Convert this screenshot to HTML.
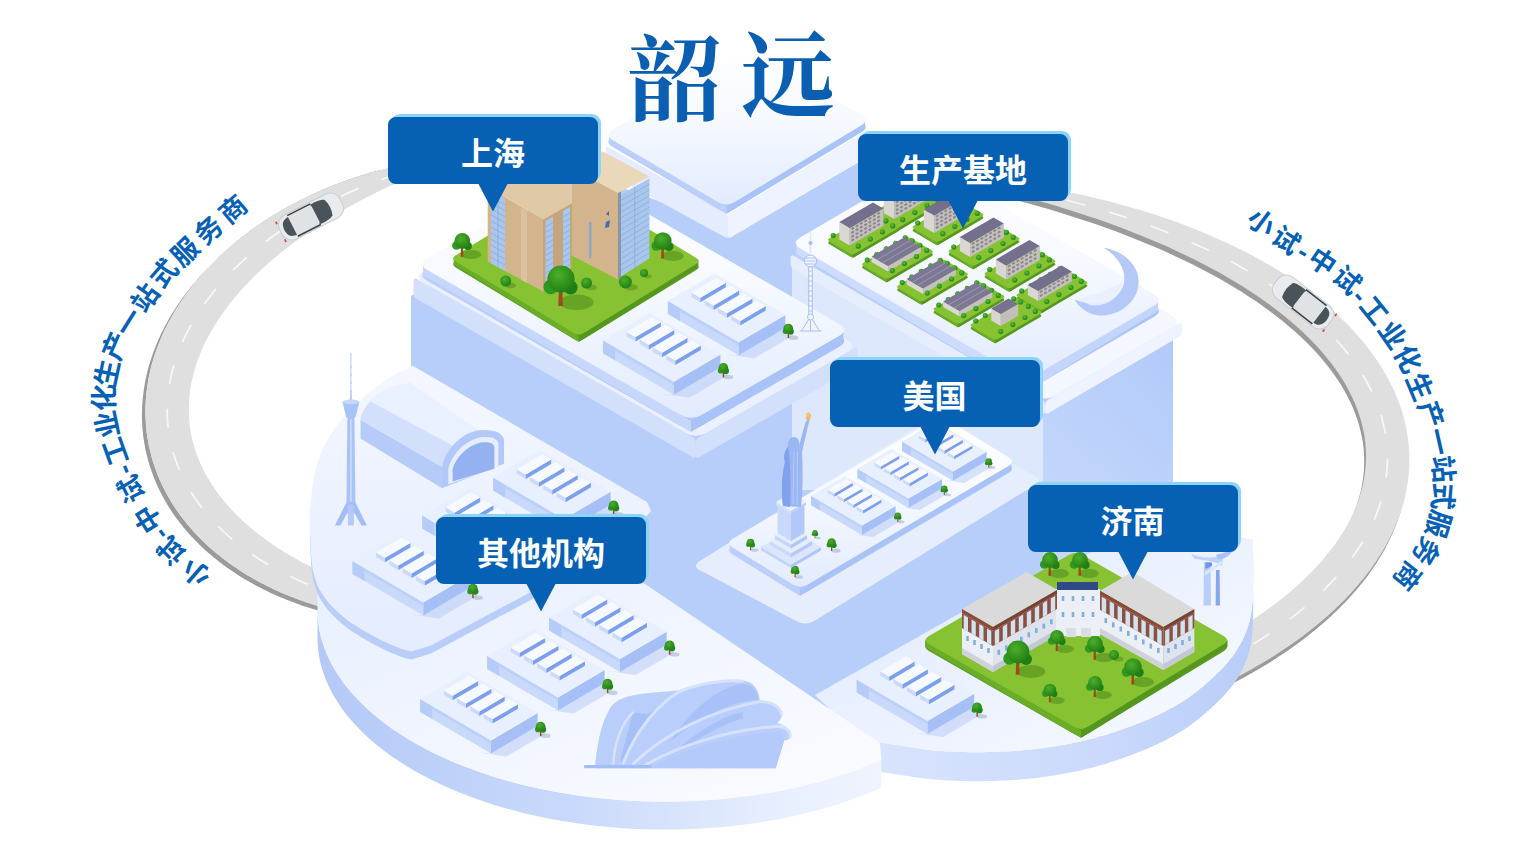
<!DOCTYPE html>
<html><head><meta charset="utf-8"><title>韶远</title>
<style>html,body{margin:0;padding:0;overflow:hidden;background:#fff;font-family:"Liberation Sans",sans-serif;}svg{display:block}</style>
</head><body>
<svg width="1529" height="852" viewBox="0 0 1529 852">
<defs>
<linearGradient id="gTop" x1="0.5" y1="0" x2="0.5" y2="1"><stop offset="0" stop-color="#ffffff"/><stop offset="0.45" stop-color="#f6f9ff"/><stop offset="1" stop-color="#e2ebfe"/></linearGradient>
<linearGradient id="gTop2" x1="0" y1="0" x2="0" y2="1"><stop offset="0" stop-color="#f4f7ff"/><stop offset="1" stop-color="#e4ecfe"/></linearGradient>
<linearGradient id="gWall" x1="0" y1="0" x2="1" y2="0"><stop offset="0" stop-color="#b4c9f8"/><stop offset="0.45" stop-color="#c9d9fb"/><stop offset="0.8" stop-color="#e6eefe"/><stop offset="1" stop-color="#f0f4ff"/></linearGradient>
<linearGradient id="gWallJ" x1="0" y1="0" x2="1" y2="0"><stop offset="0" stop-color="#d9e4fd"/><stop offset="0.6" stop-color="#cbdafc"/><stop offset="1" stop-color="#b9cdf9"/></linearGradient>
<linearGradient id="gLeftFace" x1="0" y1="0" x2="0" y2="1"><stop offset="0" stop-color="#c3d5fa"/><stop offset="1" stop-color="#d3e0fc"/></linearGradient>
<linearGradient id="gRightFace" x1="0" y1="0" x2="0" y2="1"><stop offset="0" stop-color="#a9c2f6"/><stop offset="1" stop-color="#bfd2fa"/></linearGradient>
<linearGradient id="gRim" x1="0" y1="0" x2="1" y2="0"><stop offset="0" stop-color="#bccff9"/><stop offset="1" stop-color="#a9c2f7"/></linearGradient>
<radialGradient id="gTree" cx="0.4" cy="0.35" r="0.7"><stop offset="0" stop-color="#4cae2a"/><stop offset="1" stop-color="#1f7d14"/></radialGradient>
<linearGradient id="gProdR" x1="0.7" y1="0" x2="0.3" y2="1"><stop offset="0" stop-color="#b4cbfa"/><stop offset="1" stop-color="#c9dbfd"/></linearGradient><linearGradient id="gJinTop" x1="0" y1="0" x2="1" y2="1"><stop offset="0" stop-color="#dbe6fd"/><stop offset="0.6" stop-color="#eef3ff"/><stop offset="1" stop-color="#f8faff"/></linearGradient><linearGradient id="gDiscTop" x1="0" y1="0" x2="1" y2="1"><stop offset="0" stop-color="#e6eefe"/><stop offset="0.5" stop-color="#f1f5ff"/><stop offset="1" stop-color="#fbfcff"/></linearGradient></defs>
<rect width="1529" height="852" fill="#fff"/>
<polygon points="375.9,173.7 373.3,174.4 370.6,175.1 368,175.8 365.4,176.6 362.8,177.4 360.1,178.2 357.5,179 354.9,179.8 352.4,180.7 349.8,181.5 347.2,182.4 344.6,183.3 342.1,184.2 339.5,185.2 337,186.1 334.5,187.1 332,188 329.5,189 327,190 324.5,191 322,192.1 319.5,193.1 317.1,194.2 314.6,195.3 312.2,196.4 309.7,197.5 307.3,198.6 304.9,199.7 302.5,200.9 300.1,202.1 297.8,203.2 295.4,204.4 293.1,205.7 290.7,206.9 288.4,208.1 286.1,209.4 283.8,210.6 281.5,211.9 279.3,213.2 277,214.5 274.8,215.9 272.5,217.2 270.3,218.5 268.1,219.9 265.9,221.3 263.8,222.7 261.6,224.1 259.5,225.5 257.3,226.9 255.2,228.4 253.1,229.8 251.1,231.3 249,232.7 246.9,234.2 244.9,235.7 242.9,237.3 240.9,238.8 238.9,240.3 236.9,241.9 235,243.4 233,245 231.1,246.6 229.2,248.2 227.3,249.8 225.5,251.4 223.6,253 221.8,254.6 220,256.3 218.2,257.9 216.4,259.6 214.6,261.3 212.9,263 211.2,264.7 209.5,266.4 207.8,268.1 206.1,269.8 204.5,271.6 202.8,273.3 201.2,275.1 199.6,276.8 198.1,278.6 196.5,280.4 195,282.2 193.5,284 192,285.8 190.5,287.6 189,289.4 187.6,291.2 186.2,293.1 184.8,294.9 183.4,296.8 182.1,298.6 180.8,300.5 179.5,302.3 178.2,304.2 176.9,306.1 175.7,308 174.4,309.9 173.2,311.8 172,313.7 170.9,315.6 169.8,317.6 168.6,319.5 167.5,321.4 166.5,323.4 165.4,325.3 164.4,327.3 163.4,329.2 162.4,331.2 161.4,333.1 160.5,335.1 159.6,337.1 158.7,339.1 157.8,341 157,343 156.2,345 155.4,347 154.6,349 153.8,351 153.1,353 152.4,355 151.7,357 151,359 150.4,361 149.8,363.1 149.2,365.1 148.6,367.1 148,369.1 147.5,371.1 147,373.2 146.5,375.2 146.1,377.2 145.6,379.2 145.2,381.3 144.9,383.3 144.5,385.3 144.2,387.4 143.8,389.4 143.6,391.4 143.3,393.5 143.1,395.5 142.8,397.5 142.6,399.6 142.5,401.6 142.3,403.6 142.2,405.6 142.1,407.7 142,409.7 142,411.7 141.9,413.8 141.9,415.8 142,417.8 142,419.8 142.1,421.8 142.2,423.8 142.3,425.9 142.4,427.9 142.6,429.9 142.8,431.9 143,433.9 143.2,435.9 143.5,437.9 143.8,439.9 144.1,441.9 144.4,443.8 144.8,445.8 145.1,447.8 145.5,449.8 146,451.7 146.4,453.7 146.9,455.6 147.4,457.6 147.9,459.5 148.4,461.5 149,463.4 149.6,465.4 150.2,467.3 150.8,469.2 151.5,471.1 152.2,473 152.9,474.9 153.6,476.8 154.3,478.7 155.1,480.6 155.9,482.5 156.7,484.3 157.6,486.2 158.4,488.1 159.3,489.9 160.2,491.8 161.2,493.6 162.1,495.4 163.1,497.2 164.1,499 165.1,500.8 166.2,502.6 167.2,504.4 168.3,506.2 169.4,508 170.6,509.7 171.7,511.5 172.9,513.2 174.1,514.9 175.3,516.7 176.5,518.4 177.8,520.1 179.1,521.8 180.4,523.4 181.7,525.1 183,526.8 184.4,528.4 185.8,530.1 187.2,531.7 188.6,533.3 190.1,534.9 191.5,536.5 193,538.1 194.5,539.7 196.1,541.3 197.6,542.8 199.2,544.4 200.8,545.9 202.4,547.4 204,548.9 205.6,550.4 207.3,551.9 209,553.4 210.7,554.8 212.4,556.3 214.1,557.7 215.9,559.1 217.7,560.5 219.4,561.9 221.3,563.3 223.1,564.7 224.9,566.1 226.8,567.4 228.7,568.7 230.6,570 232.5,571.3 234.4,572.6 236.4,573.9 238.3,575.2 240.3,576.4 242.3,577.7 244.3,578.9 246.3,580.1 248.4,581.3 250.5,582.5 252.5,583.6 254.6,584.8 256.7,585.9 258.9,587 261,588.1 263.1,589.2 265.3,590.3 267.5,591.3 269.7,592.4 271.9,593.4 274.1,594.4 276.4,595.4 278.6,596.4 280.9,597.4 283.2,598.3 285.4,599.3 287.8,600.2 290.1,601.1 292.4,602 294.7,602.8 297.1,603.7 299.5,604.5 301.8,605.4 304.2,606.2 306.6,607 309,607.7 311.5,608.5 313.9,609.2 316.4,609.9 318.8,610.7 321.3,611.3 323.8,612 326.2,612.7 328.7,613.3 331.2,613.9 333.8,614.6 336.3,615.1 338.8,615.7 341.4,616.3 344.9,612.8 342.3,612.2 339.8,611.6 337.3,611.1 334.7,610.4 332.2,609.8 329.7,609.2 327.3,608.5 324.8,607.8 322.3,607.2 319.9,606.4 317.4,605.7 315,605 312.5,604.2 310.1,603.5 307.7,602.7 305.3,601.9 303,601 300.6,600.2 298.2,599.3 295.9,598.5 293.6,597.6 291.3,596.7 288.9,595.8 286.7,594.8 284.4,593.9 282.1,592.9 279.9,591.9 277.6,590.9 275.4,589.9 273.2,588.9 271,587.8 268.8,586.8 266.6,585.7 264.5,584.6 262.4,583.5 260.2,582.4 258.1,581.3 256,580.1 254,579 251.9,577.8 249.8,576.6 247.8,575.4 245.8,574.2 243.8,572.9 241.8,571.7 239.9,570.4 237.9,569.1 236,567.8 234.1,566.5 232.2,565.2 230.3,563.9 228.4,562.6 226.6,561.2 224.8,559.8 222.9,558.4 221.2,557 219.4,555.6 217.6,554.2 215.9,552.8 214.2,551.3 212.5,549.9 210.8,548.4 209.1,546.9 207.5,545.4 205.9,543.9 204.3,542.4 202.7,540.9 201.1,539.3 199.6,537.8 198,536.2 196.5,534.6 195,533 193.6,531.4 192.1,529.8 190.7,528.2 189.3,526.6 187.9,524.9 186.5,523.3 185.2,521.6 183.9,519.9 182.6,518.3 181.3,516.6 180,514.9 178.8,513.2 177.6,511.4 176.4,509.7 175.2,508 174.1,506.2 172.9,504.5 171.8,502.7 170.7,500.9 169.7,499.1 168.6,497.3 167.6,495.5 166.6,493.7 165.6,491.9 164.7,490.1 163.7,488.3 162.8,486.4 161.9,484.6 161.1,482.7 160.2,480.8 159.4,479 158.6,477.1 157.8,475.2 157.1,473.3 156.4,471.4 155.7,469.5 155,467.6 154.3,465.7 153.7,463.8 153.1,461.9 152.5,459.9 151.9,458 151.4,456 150.9,454.1 150.4,452.1 149.9,450.2 149.5,448.2 149,446.3 148.6,444.3 148.3,442.3 147.9,440.3 147.6,438.4 147.3,436.4 147,434.4 146.7,432.4 146.5,430.4 146.3,428.4 146.1,426.4 145.9,424.4 145.8,422.4 145.7,420.3 145.6,418.3 145.5,416.3 145.5,414.3 145.4,412.3 145.4,410.3 145.5,408.2 145.5,406.2 145.6,404.2 145.7,402.1 145.8,400.1 146,398.1 146.1,396.1 146.3,394 146.6,392 146.8,390 147.1,387.9 147.3,385.9 147.7,383.9 148,381.8 148.4,379.8 148.7,377.8 149.1,375.7 149.6,373.7 150,371.7 150.5,369.7 151,367.6 151.5,365.6 152.1,363.6 152.7,361.6 153.3,359.6 153.9,357.5 154.5,355.5 155.2,353.5 155.9,351.5 156.6,349.5 157.3,347.5 158.1,345.5 158.9,343.5 159.7,341.5 160.5,339.5 161.3,337.5 162.2,335.6 163.1,333.6 164,331.6 164.9,329.6 165.9,327.7 166.9,325.7 167.9,323.8 168.9,321.8 170,319.9 171,317.9 172.1,316 173.3,314.1 174.4,312.1 175.5,310.2 176.7,308.3 177.9,306.4 179.2,304.5 180.4,302.6 181.7,300.7 183,298.8 184.3,297 185.6,295.1 186.9,293.3 188.3,291.4 189.7,289.6 191.1,287.7 192.5,285.9 194,284.1 195.5,282.3 197,280.5 198.5,278.7 200,276.9 201.6,275.1 203.1,273.3 204.7,271.6 206.3,269.8 208,268.1 209.6,266.3 211.3,264.6 213,262.9 214.7,261.2 216.4,259.5 218.1,257.8 219.9,256.1 221.7,254.4 223.5,252.8 225.3,251.1 227.1,249.5 229,247.9 230.8,246.3 232.7,244.7 234.6,243.1 236.5,241.5 238.5,239.9 240.4,238.4 242.4,236.8 244.4,235.3 246.4,233.8 248.4,232.2 250.4,230.7 252.5,229.2 254.6,227.8 256.6,226.3 258.7,224.9 260.8,223.4 263,222 265.1,220.6 267.3,219.2 269.4,217.8 271.6,216.4 273.8,215 276,213.7 278.3,212.4 280.5,211 282.8,209.7 285,208.4 287.3,207.1 289.6,205.9 291.9,204.6 294.2,203.4 296.6,202.2 298.9,200.9 301.3,199.7 303.6,198.6 306,197.4 308.4,196.2 310.8,195.1 313.2,194 315.7,192.9 318.1,191.8 320.6,190.7 323,189.6 325.5,188.6 328,187.5 330.5,186.5 333,185.5 335.5,184.5 338,183.6 340.5,182.6 343,181.7 345.6,180.7 348.1,179.8 350.7,178.9 353.3,178 355.9,177.2 358.4,176.3 361,175.5 363.6,174.7 366.3,173.9 368.9,173.1 371.5,172.3 374.1,171.6 376.8,170.9 379.4,170.2" fill="#9b9b9b" />
<polygon points="395.4,166.2 392.7,166.8 390,167.5 387.4,168.1 384.7,168.8 382,169.5 379.4,170.2 376.8,170.9 374.1,171.6 371.5,172.3 368.9,173.1 366.3,173.9 363.6,174.7 361,175.5 358.4,176.3 355.9,177.2 353.3,178 350.7,178.9 348.1,179.8 345.6,180.7 343,181.7 340.5,182.6 338,183.6 335.5,184.5 333,185.5 330.5,186.5 328,187.5 325.5,188.6 323,189.6 320.6,190.7 318.1,191.8 315.7,192.9 313.2,194 310.8,195.1 308.4,196.2 306,197.4 303.6,198.6 301.3,199.7 298.9,200.9 296.6,202.2 294.2,203.4 291.9,204.6 289.6,205.9 287.3,207.1 285,208.4 282.8,209.7 280.5,211 278.3,212.4 276,213.7 273.8,215 271.6,216.4 269.4,217.8 267.3,219.2 265.1,220.6 263,222 260.8,223.4 258.7,224.9 256.6,226.3 254.6,227.8 252.5,229.2 250.4,230.7 248.4,232.2 246.4,233.8 244.4,235.3 242.4,236.8 240.4,238.4 238.5,239.9 236.5,241.5 234.6,243.1 232.7,244.7 230.8,246.3 229,247.9 227.1,249.5 225.3,251.1 223.5,252.8 221.7,254.4 219.9,256.1 218.1,257.8 216.4,259.5 214.7,261.2 213,262.9 211.3,264.6 209.6,266.3 208,268.1 206.3,269.8 204.7,271.6 203.1,273.3 201.6,275.1 200,276.9 198.5,278.7 197,280.5 195.5,282.3 194,284.1 192.5,285.9 191.1,287.7 189.7,289.6 188.3,291.4 186.9,293.3 185.6,295.1 184.3,297 183,298.8 181.7,300.7 180.4,302.6 179.2,304.5 177.9,306.4 176.7,308.3 175.5,310.2 174.4,312.1 173.3,314.1 172.1,316 171,317.9 170,319.9 168.9,321.8 167.9,323.8 166.9,325.7 165.9,327.7 164.9,329.6 164,331.6 163.1,333.6 162.2,335.6 161.3,337.5 160.5,339.5 159.7,341.5 158.9,343.5 158.1,345.5 157.3,347.5 156.6,349.5 155.9,351.5 155.2,353.5 154.5,355.5 153.9,357.5 153.3,359.6 152.7,361.6 152.1,363.6 151.5,365.6 151,367.6 150.5,369.7 150,371.7 149.6,373.7 149.1,375.7 148.7,377.8 148.4,379.8 148,381.8 147.7,383.9 147.3,385.9 147.1,387.9 146.8,390 146.6,392 146.3,394 146.1,396.1 146,398.1 145.8,400.1 145.7,402.1 145.6,404.2 145.5,406.2 145.5,408.2 145.4,410.3 145.4,412.3 145.5,414.3 145.5,416.3 145.6,418.3 145.7,420.3 145.8,422.4 145.9,424.4 146.1,426.4 146.3,428.4 146.5,430.4 146.7,432.4 147,434.4 147.3,436.4 147.6,438.4 147.9,440.3 148.3,442.3 148.6,444.3 149,446.3 149.5,448.2 149.9,450.2 150.4,452.1 150.9,454.1 151.4,456 151.9,458 152.5,459.9 153.1,461.9 153.7,463.8 154.3,465.7 155,467.6 155.7,469.5 156.4,471.4 157.1,473.3 157.8,475.2 158.6,477.1 159.4,479 160.2,480.8 161.1,482.7 161.9,484.6 162.8,486.4 163.7,488.3 164.7,490.1 165.6,491.9 166.6,493.7 167.6,495.5 168.6,497.3 169.7,499.1 170.7,500.9 171.8,502.7 172.9,504.5 174.1,506.2 175.2,508 176.4,509.7 177.6,511.4 178.8,513.2 180,514.9 181.3,516.6 182.6,518.3 183.9,519.9 185.2,521.6 186.5,523.3 187.9,524.9 189.3,526.6 190.7,528.2 192.1,529.8 193.6,531.4 195,533 196.5,534.6 198,536.2 199.6,537.8 201.1,539.3 202.7,540.9 204.3,542.4 205.9,543.9 207.5,545.4 209.1,546.9 210.8,548.4 212.5,549.9 214.2,551.3 215.9,552.8 217.6,554.2 219.4,555.6 221.2,557 222.9,558.4 224.8,559.8 226.6,561.2 228.4,562.6 230.3,563.9 232.2,565.2 234.1,566.5 236,567.8 237.9,569.1 239.9,570.4 241.8,571.7 243.8,572.9 245.8,574.2 247.8,575.4 249.8,576.6 251.9,577.8 254,579 256,580.1 258.1,581.3 260.2,582.4 262.4,583.5 264.5,584.6 266.6,585.7 268.8,586.8 271,587.8 273.2,588.9 275.4,589.9 277.6,590.9 279.9,591.9 282.1,592.9 284.4,593.9 286.7,594.8 288.9,595.8 291.3,596.7 293.6,597.6 295.9,598.5 298.2,599.3 300.6,600.2 303,601 305.3,601.9 307.7,602.7 310.1,603.5 312.5,604.2 315,605 317.4,605.7 319.9,606.4 322.3,607.2 324.8,607.8 327.3,608.5 329.7,609.2 332.2,609.8 334.7,610.4 337.3,611.1 339.8,611.6 342.3,612.2 344.9,612.8 344.7,581.8 341.5,580.6 338.5,579.3 335.4,578 332.4,576.7 329.4,575.4 326.4,574.1 323.4,572.8 320.5,571.4 317.6,570 314.7,568.7 311.9,567.3 309.1,565.8 306.3,564.4 303.5,563 300.8,561.5 298.1,560 295.4,558.5 292.8,557 290.2,555.5 287.6,554 285,552.4 282.5,550.8 280,549.3 277.5,547.7 275.1,546.1 272.7,544.4 270.3,542.8 268,541.2 265.7,539.5 263.4,537.8 261.1,536.1 258.9,534.4 256.7,532.7 254.6,531 252.5,529.3 250.4,527.5 248.3,525.8 246.3,524 244.3,522.2 242.3,520.4 240.4,518.6 238.5,516.8 236.7,514.9 234.8,513.1 233.1,511.2 231.3,509.4 229.6,507.5 227.9,505.6 226.2,503.7 224.6,501.8 223,499.9 221.5,497.9 220,496 218.5,494 217,492.1 215.6,490.1 214.2,488.1 212.9,486.1 211.6,484.1 210.3,482.1 209.1,480.1 207.9,478.1 206.7,476.1 205.6,474 204.5,472 203.5,469.9 202.4,467.9 201.5,465.8 200.5,463.7 199.6,461.6 198.7,459.5 197.9,457.4 197.1,455.3 196.3,453.2 195.6,451.1 194.9,448.9 194.3,446.8 193.6,444.7 193.1,442.5 192.5,440.4 192,438.2 191.5,436 191.1,433.9 190.7,431.7 190.4,429.5 190,427.3 189.8,425.1 189.5,422.9 189.3,420.7 189.1,418.5 189,416.3 188.9,414.1 188.8,411.9 188.8,409.7 188.8,407.5 188.9,405.2 189,403 189.1,400.8 189.3,398.6 189.5,396.3 189.7,394.1 190,391.8 190.3,389.6 190.6,387.4 191,385.1 191.4,382.9 191.9,380.6 192.4,378.4 192.9,376.1 193.5,373.9 194.1,371.6 194.7,369.4 195.4,367.1 196.1,364.9 196.9,362.6 197.7,360.4 198.5,358.1 199.4,355.9 200.3,353.6 201.2,351.4 202.2,349.1 203.2,346.9 204.2,344.6 205.3,342.4 206.4,340.1 207.6,337.9 208.8,335.7 210,333.4 211.3,331.2 212.6,329 213.9,326.7 215.3,324.5 216.7,322.3 218.1,320.1 219.6,317.9 221.1,315.7 222.6,313.5 224.2,311.3 225.8,309.1 227.5,306.9 229.1,304.7 230.8,302.5 232.6,300.3 234.4,298.1 236.2,296 238,293.8 239.9,291.6 241.8,289.5 243.8,287.3 245.8,285.2 247.8,283.1 249.8,280.9 251.9,278.8 254,276.7 256.2,274.6 258.3,272.5 260.6,270.4 262.8,268.3 265.1,266.2 267.4,264.2 269.7,262.1 272.1,260 274.5,258 276.9,255.9 279.3,253.9 281.8,251.9 284.4,249.9 286.9,247.9 289.5,245.9 292.1,243.9 294.7,241.9 297.4,239.9 300.1,238 302.8,236 305.6,234.1 308.3,232.2 311.2,230.2 314,228.3 316.9,226.4 319.7,224.5 322.7,222.7 325.6,220.8 328.6,218.9 331.6,217.1 334.6,215.3 337.7,213.5 340.7,211.6 343.8,209.8 347,208.1 350.1,206.3 353.3,204.5 356.5,202.8 359.7,201 363,199.3 366.3,197.6 369.6,195.9 372.9,194.2 376.2,192.5 379.6,190.9 383,189.2 386.4,187.6 389.8,186 393.3,184.4 396.8,182.8" fill="#dfdfdf" />
<polyline points="396.1,174.5 390.2,176.5 384.3,178.5 378.4,180.6 372.5,182.8 366.7,185.1 360.9,187.5 355.2,189.9 349.5,192.4 343.8,195 338.1,197.6 332.5,200.4 326.9,203.2 321.3,206.1 315.8,209 310.4,212.1 304.9,215.2 299.6,218.5 294.2,221.8 289,225.1 283.8,228.6 278.6,232.2 273.5,235.8 268.4,239.5 263.5,243.4 258.6,247.3 253.7,251.2 249,255.3 244.3,259.5 239.7,263.8 235.2,268.1 230.8,272.6 226.4,277.1 222.2,281.7 218.1,286.4 214.1,291.3 210.2,296.2 206.4,301.2 202.8,306.3 199.2,311.5 195.9,316.7 192.6,322.1 189.6,327.6 186.7,333.1 183.9,338.8 181.4,344.5 179,350.3 176.8,356.2 174.8,362.1 173.1,368.1 171.5,374.2 170.2,380.3 169.1,386.5 168.3,392.7 167.7,398.9 167.3,405.2 167.2,411.4 167.4,417.7 167.8,424 168.5,430.2 169.4,436.4 170.6,442.5 172.1,448.6 173.8,454.7 175.8,460.6 178,466.5 180.4,472.3 183.1,477.9 185.9,483.5 189,489 192.3,494.3 195.8,499.5 199.4,504.6 203.2,509.6 207.2,514.4 211.4,519.1 215.6,523.7 220,528.2 224.6,532.5 229.2,536.7 234,540.8 238.9,544.7 243.9,548.5 248.9,552.2 254.1,555.7 259.3,559.2 264.6,562.5 270,565.7 275.5,568.8 281,571.7 286.6,574.6 292.2,577.3 297.9,580 303.6,582.5 309.4,584.9 315.2,587.2 321,589.4 326.9,591.6 332.8,593.6 338.8,595.5 344.8,597.3" fill="none" stroke="#f8f8f8" stroke-width="1.7" stroke-dasharray="19 25" stroke-dashoffset="4"/>
<polygon points="983.5,184.1 996.3,185.6 1009,187.2 1021.6,189 1034.1,191 1046.6,193.2 1058.9,195.5 1071.1,198 1083.2,200.6 1095.2,203.4 1107,206.3 1118.7,209.4 1130.2,212.7 1141.6,216.1 1152.8,219.6 1163.8,223.3 1174.7,227.1 1185.3,231.1 1195.8,235.2 1206.1,239.5 1216.2,243.9 1226.1,248.4 1235.8,253 1245.3,257.8 1254.5,262.7 1263.5,267.7 1272.3,272.9 1280.8,278.1 1289.1,283.5 1297.2,288.9 1305,294.5 1312.5,300.2 1319.8,306 1326.8,311.9 1333.5,317.8 1340,323.9 1346.2,330 1352.1,336.3 1357.7,342.6 1363.1,349 1368.1,355.4 1372.9,361.9 1377.3,368.5 1381.5,375.2 1385.4,381.9 1388.9,388.6 1392.2,395.4 1395.1,402.3 1397.8,409.2 1400.1,416.1 1402.1,423 1403.8,430 1405.2,437 1406.3,444.1 1407,451.1 1407.5,458.2 1407.6,465.3 1407.4,472.3 1406.9,479.4 1406.1,486.5 1404.9,493.6 1403.5,500.6 1401.7,507.7 1399.7,514.7 1397.3,521.7 1394.6,528.7 1391.6,535.6 1388.3,542.5 1384.6,549.4 1380.7,556.2 1376.5,563 1372,569.7 1367.2,576.4 1362.1,583 1356.7,589.5 1351,596 1345,602.4 1338.8,608.7 1332.3,615 1325.5,621.2 1318.4,627.3 1311.1,633.3 1303.5,639.2 1295.7,645 1287.6,650.7 1279.2,656.3 1270.6,661.9 1261.8,667.3 1252.8,672.6 1243.5,677.7 1234,682.8 1224.2,641.1 1232.2,636.5 1239.9,631.7 1247.5,626.9 1254.8,622.1 1261.9,617.2 1268.7,612.2 1275.4,607.2 1281.8,602.2 1288,597.1 1294,591.9 1299.7,586.7 1305.2,581.5 1310.5,576.2 1315.5,570.9 1320.3,565.5 1324.8,560.1 1329.1,554.7 1333.2,549.3 1337,543.8 1340.6,538.3 1343.9,532.7 1347,527.2 1349.8,521.6 1352.4,516 1354.7,510.3 1356.8,504.7 1358.6,499 1360.2,493.4 1361.5,487.7 1362.5,482 1363.3,476.3 1363.9,470.6 1364.1,464.9 1364.2,459.2 1364,453.5 1363.5,447.8 1362.8,442.1 1361.8,436.4 1360.5,430.7 1359,425 1357.3,419.4 1355.3,413.7 1353,408.1 1350.5,402.5 1347.7,396.9 1344.7,391.3 1341.5,385.8 1338,380.3 1334.2,374.8 1330.2,369.3 1326,363.9 1321.5,358.5 1316.8,353.1 1311.8,347.8 1306.6,342.5 1301.2,337.3 1295.5,332.1 1289.6,326.9 1283.5,321.8 1277.1,316.7 1270.5,311.7 1263.7,306.7 1256.7,301.8 1249.4,296.9 1241.9,292.1 1234.3,287.4 1226.4,282.7 1218.3,278.1 1209.9,273.5 1201.4,269 1192.7,264.5 1183.8,260.2 1174.7,255.9 1165.4,251.6 1155.9,247.5 1146.3,243.4 1136.4,239.4 1126.4,235.4 1116.2,231.6 1105.8,227.8 1095.3,224.1 1084.5,220.4 1073.7,216.9 1062.7,213.4 1051.5,210 1040.2,206.8 1028.7,203.5 1017.1,200.4 1005.3,197.4 993.4,194.5" fill="#9b9b9b" />
<polygon points="985.3,179.1 998.1,180.6 1010.8,182.2 1023.4,184 1035.9,186 1048.4,188.2 1060.7,190.5 1072.9,193 1085,195.6 1097,198.4 1108.8,201.3 1120.5,204.4 1132,207.7 1143.4,211.1 1154.6,214.6 1165.6,218.3 1176.5,222.1 1187.1,226.1 1197.6,230.2 1207.9,234.5 1218,238.9 1227.9,243.4 1237.6,248 1247.1,252.8 1256.3,257.7 1265.3,262.7 1274.1,267.9 1282.6,273.1 1290.9,278.5 1299,283.9 1306.8,289.5 1314.3,295.2 1321.6,301 1328.6,306.9 1335.3,312.8 1341.8,318.9 1348,325 1353.9,331.3 1359.5,337.6 1364.9,344 1369.9,350.4 1374.7,356.9 1379.1,363.5 1383.3,370.2 1387.2,376.9 1390.7,383.6 1394,390.4 1396.9,397.3 1399.6,404.2 1401.9,411.1 1403.9,418 1405.6,425 1407,432 1408.1,439.1 1408.8,446.1 1409.3,453.2 1409.4,460.3 1409.2,467.3 1408.7,474.4 1407.9,481.5 1406.7,488.6 1405.3,495.6 1403.5,502.7 1401.5,509.7 1399.1,516.7 1396.4,523.7 1393.4,530.6 1390.1,537.5 1386.4,544.4 1382.5,551.2 1378.3,558 1373.8,564.7 1369,571.4 1363.9,578 1358.5,584.5 1352.8,591 1346.8,597.4 1340.6,603.7 1334.1,610 1327.3,616.2 1320.2,622.3 1312.9,628.3 1305.3,634.2 1297.5,640 1289.4,645.7 1281,651.3 1272.4,656.9 1263.6,662.3 1254.6,667.6 1245.3,672.7 1235.8,677.8 1226,636.1 1234,631.5 1241.7,626.7 1249.3,621.9 1256.6,617.1 1263.7,612.2 1270.5,607.2 1277.2,602.2 1283.6,597.2 1289.8,592.1 1295.8,586.9 1301.5,581.7 1307,576.5 1312.3,571.2 1317.3,565.9 1322.1,560.5 1326.6,555.1 1330.9,549.7 1335,544.3 1338.8,538.8 1342.4,533.3 1345.7,527.7 1348.8,522.2 1351.6,516.6 1354.2,511 1356.5,505.3 1358.6,499.7 1360.4,494 1362,488.4 1363.3,482.7 1364.3,477 1365.1,471.3 1365.7,465.6 1365.9,459.9 1366,454.2 1365.8,448.5 1365.3,442.8 1364.6,437.1 1363.6,431.4 1362.3,425.7 1360.8,420 1359.1,414.4 1357.1,408.7 1354.8,403.1 1352.3,397.5 1349.5,391.9 1346.5,386.3 1343.3,380.8 1339.8,375.3 1336,369.8 1332,364.3 1327.8,358.9 1323.3,353.5 1318.6,348.1 1313.6,342.8 1308.4,337.5 1303,332.3 1297.3,327.1 1291.4,321.9 1285.3,316.8 1278.9,311.7 1272.3,306.7 1265.5,301.7 1258.5,296.8 1251.2,291.9 1243.7,287.1 1236.1,282.4 1228.2,277.7 1220.1,273.1 1211.7,268.5 1203.2,264 1194.5,259.5 1185.6,255.2 1176.5,250.9 1167.2,246.6 1157.7,242.5 1148.1,238.4 1138.2,234.4 1128.2,230.4 1118,226.6 1107.6,222.8 1097.1,219.1 1086.3,215.4 1075.5,211.9 1064.5,208.4 1053.3,205 1042,201.8 1030.5,198.5 1018.9,195.4 1007.1,192.4 995.2,189.5" fill="#dfdfdf" />
<polyline points="990.2,184.3 997.9,185.6 1005.6,187 1013.3,188.5 1021,190 1028.7,191.6 1036.3,193.2 1043.9,194.9 1051.6,196.6 1059.2,198.5 1066.8,200.3 1074.4,202.3 1081.9,204.3 1089.5,206.4 1097,208.5 1104.5,210.7 1112,213 1119.5,215.4 1126.9,217.8 1134.3,220.3 1141.7,222.8 1149.1,225.5 1156.4,228.2 1163.8,231 1171,233.9 1178.3,236.8 1185.5,239.8 1192.7,243 1199.8,246.2 1206.9,249.5 1214,252.9 1221,256.4 1228,259.9 1234.9,263.6 1241.8,267.4 1248.6,271.3 1255.3,275.3 1262,279.4 1268.6,283.6 1275.1,287.9 1281.6,292.4 1287.9,296.9 1294.2,301.6 1300.4,306.5 1306.4,311.4 1312.4,316.5 1318.2,321.8 1323.9,327.1 1329.5,332.7 1334.8,338.3 1340.1,344.2 1345.1,350.2 1350,356.3 1354.6,362.6 1359,369.1 1363.2,375.7 1367.1,382.5 1370.7,389.4 1374,396.5 1377,403.7 1379.7,411.1 1382,418.6 1383.9,426.2 1385.4,433.8 1386.5,441.6 1387.2,449.4 1387.5,457.2 1387.3,465 1386.7,472.8 1385.7,480.6 1384.3,488.3 1382.5,495.9 1380.3,503.4 1377.8,510.8 1374.9,518.1 1371.6,525.2 1368.1,532.2 1364.3,539 1360.2,545.7 1355.9,552.2 1351.3,558.6 1346.6,564.8 1341.6,570.9 1336.5,576.8 1331.1,582.6 1325.7,588.2 1320.1,593.6 1314.3,599 1308.5,604.2 1302.5,609.2 1296.4,614.1 1290.2,618.9 1283.9,623.6 1277.5,628.2 1271.1,632.6 1264.6,636.9 1257.9,641.1 1251.3,645.2 1244.5,649.2 1237.7,653.2 1230.9,657" fill="none" stroke="#f8f8f8" stroke-width="1.7" stroke-dasharray="19 25" stroke-dashoffset="10"/>
<g fill="#0661b4" font-family="'Liberation Sans','Noto Sans CJK SC',sans-serif" font-weight="bold" font-size="27" text-anchor="middle"><text transform="translate(196 573) rotate(-138.7)" x="0" y="10">小</text><text transform="translate(171.7 551) rotate(-134)" x="0" y="10">试</text><text transform="translate(159.6 535) rotate(-126.9)" x="0" y="10">-</text><text transform="translate(147.5 519) rotate(-122)" x="0" y="10">中</text><text transform="translate(131 489) rotate(-116.4)" x="0" y="10">试</text><text transform="translate(123 470.2) rotate(-113)" x="0" y="10">-</text><text transform="translate(115 451.4) rotate(-109.8)" x="0" y="10">工</text><text transform="translate(107 424.4) rotate(-101.9)" x="0" y="10">业</text><text transform="translate(104 397.5) rotate(-90)" x="0" y="10">化</text><text transform="translate(107 373) rotate(-77.9)" x="0" y="10">生</text><text transform="translate(115 346) rotate(-66.9)" x="0" y="10">产</text><text transform="translate(128.6 322) rotate(-57.9)" x="0" y="10">一</text><text transform="translate(144.8 297.6) rotate(-54.7)" x="0" y="10">站</text><text transform="translate(163.6 273) rotate(-48.7)" x="0" y="10">式</text><text transform="translate(185 251.7) rotate(-43.5)" x="0" y="10">服</text><text transform="translate(208.4 230) rotate(-41.7)" x="0" y="10">务</text><text transform="translate(232.7 209) rotate(-40.6)" x="0" y="10">商</text></g>
<g fill="#0661b4" font-family="'Liberation Sans','Noto Sans CJK SC',sans-serif" font-weight="bold" font-size="27" text-anchor="middle"><text transform="translate(1261.5 222) rotate(36.8)" x="0" y="10">小</text><text transform="translate(1286 240) rotate(34.1)" x="0" y="10">试</text><text transform="translate(1304.2 250.8) rotate(29.7)" x="0" y="10">-</text><text transform="translate(1322.5 261.6) rotate(33.9)" x="0" y="10">中</text><text transform="translate(1347 280) rotate(41.5)" x="0" y="10">试</text><text transform="translate(1360.7 295.2) rotate(48.5)" x="0" y="10">-</text><text transform="translate(1374.4 310.4) rotate(50.8)" x="0" y="10">工</text><text transform="translate(1392.7 334.8) rotate(55)" x="0" y="10">业</text><text transform="translate(1408 359) rotate(62.4)" x="0" y="10">化</text><text transform="translate(1420 386.7) rotate(67.4)" x="0" y="10">生</text><text transform="translate(1431 414) rotate(71.3)" x="0" y="10">产</text><text transform="translate(1438.5 441.7) rotate(77.2)" x="0" y="10">一</text><text transform="translate(1443.4 469) rotate(84.6)" x="0" y="10">站</text><text transform="translate(1443.4 496.6) rotate(94.8)" x="0" y="10">式</text><text transform="translate(1438.5 524) rotate(107.1)" x="0" y="10">服</text><text transform="translate(1426.3 551.6) rotate(121.3)" x="0" y="10">务</text><text transform="translate(1408 576) rotate(128.6)" x="0" y="10">商</text></g>
<polygon points="411,296 600,180 740,230 880,150 1173,330 1173,600 900,760 640,600 411,470" fill="#b8cefa" />
<polygon points="1043,405 1173,330 1173,620 1043,620" fill="url(#gProdR)" />
<polygon points="792,256 1043,412 1043,490 792,490" fill="#dde8fd" />
<path d="M606 149Q606 146 608.6 147.5L725.4 212.5Q728 214 728 217L728 236Q728 239 725.4 237.6L608.6 173.4Q606 172 606 169Z" fill="#e4ecfe" />
<path d="M728 217Q728 214 730.6 212.5L866.4 130.5Q869 129 869 132L869 153Q869 156 866.4 157.5L730.6 237.5Q728 239 728 236Z" fill="#eff3ff" />
<g transform="translate(0 7)"><path d="M612.6 129.8Q604 135 612.6 140.1L717.9 201.9Q726.5 207 735.1 201.8L861.4 125.2Q870 120 861.4 114.9L756.1 53.1Q747.5 48 738.9 53.2Z" fill="url(#gRim)" /></g><polygon points="609,135 609,142 726.5,214 726.5,207" fill="#bccff9" /><polygon points="726.5,207 726.5,214 865,127 865,120" fill="#a9c2f7" /><path d="M612.6 129.8Q604 135 612.6 140.1L717.9 201.9Q726.5 207 735.1 201.8L861.4 125.2Q870 120 861.4 114.9L756.1 53.1Q747.5 48 738.9 53.2Z" fill="url(#gTop)" />
<path d="M794.1 256Q790.6 254 790.6 258L790.6 263.5Q790.6 267.5 794.1 269.5L1041.7 413.1Q1045.1 415.1 1045.1 411.1L1045.1 405.6Q1045.1 401.6 1041.7 399.6Z" fill="#e6eefe" /><path d="M1048.6 399.6Q1045.1 401.6 1045.1 405.6L1045.1 411.1Q1045.1 415.1 1048.6 413.1L1178.7 337.1Q1182.1 335.1 1182.1 331.1L1182.1 325.6Q1182.1 321.6 1178.7 323.6Z" fill="#eef3ff" /><path d="M801 247.9Q790.6 254 801 260L1034.7 395.6Q1045.1 401.6 1055.5 395.6L1171.8 327.7Q1182.1 321.6 1171.7 315.6L938 180Q927.6 174 917.2 180.1Z" fill="#f4f7ff" /><g transform="translate(0 11)"><path d="M801 236.9Q790.6 243 801 249L1016.6 374Q1027 380 1037.4 373.9L1153.6 306.1Q1164 300 1153.6 294L938 169Q927.6 163 917.2 169.1Z" fill="url(#gRim)" /></g><polygon points="796.6,243 796.6,254 1027,391 1027,380" fill="#cddcfc" /><polygon points="1027,380 1027,391 1158,311 1158,300" fill="#c3d5fb" /><path d="M801 236.9Q790.6 243 801 249L1016.6 374Q1027 380 1037.4 373.9L1153.6 306.1Q1164 300 1153.6 294L938 169Q927.6 163 917.2 169.1Z" fill="url(#gTop)" />
<path d="M417 279Q413.5 277 413.5 281L413.5 293Q413.5 297 417 299L692.4 456.9Q695.9 458.9 695.9 454.9L695.9 442.9Q695.9 438.9 692.4 436.9Z" fill="#d3e0fc" /><path d="M699.4 436.9Q695.9 438.9 695.9 442.9L695.9 454.9Q695.9 458.9 699.4 456.9L854.3 367.9Q857.8 365.9 857.8 361.9L857.8 349.9Q857.8 345.9 854.3 347.9Z" fill="#d3e0fc" /><path d="M423.9 271Q413.5 277 424 283L685.5 432.9Q695.9 438.9 706.3 432.9L847.4 351.9Q857.8 345.9 847.4 339.9L585.8 189Q575.4 183 565 189Z" fill="#eaf0ff" /><g transform="translate(0 11)"><path d="M427.4 258Q417 264 427.4 270L680.6 415Q691 421 701.4 415L839 336Q849.4 330 839 324L585.8 178Q575.4 172 565 178Z" fill="url(#gRim)" /></g><polygon points="423,264 423,275 691,432 691,421" fill="#c6d7fb" /><polygon points="691,421 691,432 843.4,341 843.4,330" fill="#a9c2f7" /><path d="M427.4 258Q417 264 427.4 270L680.6 415Q691 421 701.4 415L839 336Q849.4 330 839 324L585.8 178Q575.4 172 565 178Z" fill="url(#gTop)" />
<path d="M700.1 560.7Q691.6 566 700.5 570.6L797.1 621.4Q806 626 814.5 620.8L1034.5 485.2Q1043 480 1034.1 475.4L936.9 424.6Q928 420 919.5 425.3Z" fill="#e6eefe" />
<g transform="translate(0 7)"><path d="M733.1 538.4Q725.3 543 733 547.7L792.3 584.3Q800 589 807.8 584.4L1008 466.3Q1015.8 461.7 1008.1 457L948.7 420.4Q941 415.7 933.2 420.3Z" fill="url(#gRim)" /></g><polygon points="729.8,543 729.8,550 800,596 800,589" fill="#bccff9" /><polygon points="800,589 800,596 1011.3,468.7 1011.3,461.7" fill="#a9c2f7" /><path d="M733.1 538.4Q725.3 543 733 547.7L792.3 584.3Q800 589 807.8 584.4L1008 466.3Q1015.8 461.7 1008.1 457L948.7 420.4Q941 415.7 933.2 420.3Z" fill="url(#gTop)" />
<polygon points="1253,545 1253,546.9 1253,549.2 1253.1,551.9 1253.1,555 1253.1,558.4 1253.2,561.9 1253.2,565.6 1253.2,569.4 1253.2,573.2 1253.2,576.9 1253.2,580.5 1253.2,584 1253.1,587.1 1253,590 1252.9,592.6 1252.8,595.1 1252.7,597.5 1252.5,599.8 1252.4,602 1252.2,604.1 1252.1,606.2 1251.9,608.2 1251.6,610.2 1251.3,612.2 1251,614.1 1250.7,616.1 1250.3,618 1249.8,620 1249.3,622 1248.8,623.9 1248.2,625.9 1247.6,627.8 1246.9,629.7 1246.2,631.5 1245.5,633.4 1244.7,635.2 1243.9,637 1243.1,638.9 1242.2,640.7 1241.3,642.4 1240.3,644.2 1239.3,646 1238.3,647.8 1237.2,649.5 1236.2,651.1 1235.1,652.8 1234,654.4 1232.8,656.1 1231.6,657.7 1230.4,659.3 1229,661 1227.6,662.6 1226.1,664.3 1224.5,666.1 1222.8,667.9 1221,669.7 1219.1,671.6 1217,673.6 1214.8,675.7 1212.6,677.8 1210.2,679.9 1207.8,682.1 1205.3,684.3 1202.8,686.4 1200.2,688.6 1197.6,690.7 1194.9,692.8 1192.3,694.8 1189.6,696.7 1187,698.5 1184.4,700.2 1181.8,701.9 1179.2,703.5 1176.6,705.1 1173.9,706.7 1171.3,708.1 1168.5,709.6 1165.8,711 1163,712.5 1160.1,713.8 1157.2,715.2 1154.1,716.6 1151,718 1147.8,719.4 1144.5,720.8 1141,722.2 1137.5,723.6 1133.8,725.1 1130.1,726.5 1126.3,727.8 1122.5,729.2 1118.6,730.6 1114.7,731.9 1110.8,733.1 1107,734.4 1103.1,735.5 1099.3,736.6 1095.5,737.7 1091.8,738.7 1088,739.6 1084.3,740.5 1080.5,741.4 1076.8,742.2 1073,743 1069.2,743.7 1065.5,744.4 1061.7,745.1 1058,745.7 1054.2,746.4 1050.5,746.9 1046.7,747.5 1043,748 1039.3,748.5 1035.5,748.9 1031.8,749.4 1028.1,749.8 1024.3,750.1 1020.6,750.4 1016.9,750.7 1013.2,751 1009.4,751.2 1005.7,751.4 1002,751.6 998.3,751.8 994.5,751.9 990.8,752 987.1,752.1 983.4,752.2 979.7,752.2 976,752.2 972.3,752.2 968.7,752.2 965,752.1 961.3,752 957.6,751.9 953.8,751.8 950.1,751.6 946.2,751.4 942.4,751.1 938.5,750.8 934.5,750.4 930.2,750 925.9,749.5 921.4,749 916.9,748.4 912.3,747.8 907.8,747.1 903.4,746.5 899.1,745.8 894.9,745.2 891,744.6 887.3,744 884,743.5 881,743 878.3,742.5 875.9,742.1 873.7,741.7 871.7,741.2 869.9,740.8 868.3,740.4 866.9,740 865.6,739.6 864.5,739.3 863.4,739 862.5,738.7 861.6,738.4 860.8,738.2 860,738 860,767 860.8,767.2 861.6,767.4 862.5,767.7 863.4,768 864.5,768.3 865.6,768.6 866.9,769 868.3,769.4 869.9,769.8 871.7,770.2 873.7,770.7 875.9,771.1 878.3,771.5 881,772 884,772.5 887.3,773 891,773.6 894.9,774.2 899.1,774.8 903.4,775.5 907.8,776.1 912.3,776.8 916.9,777.4 921.4,778 925.9,778.5 930.2,779 934.5,779.4 938.5,779.8 942.4,780.1 946.2,780.4 950.1,780.6 953.8,780.8 957.6,780.9 961.3,781 965,781.1 968.7,781.2 972.3,781.2 976,781.2 979.7,781.2 983.4,781.2 987.1,781.1 990.8,781 994.5,780.9 998.3,780.8 1002,780.6 1005.7,780.4 1009.4,780.2 1013.2,780 1016.9,779.7 1020.6,779.4 1024.3,779.1 1028.1,778.8 1031.8,778.4 1035.5,777.9 1039.3,777.5 1043,777 1046.7,776.5 1050.5,775.9 1054.2,775.4 1058,774.7 1061.7,774.1 1065.5,773.4 1069.2,772.7 1073,772 1076.8,771.2 1080.5,770.4 1084.3,769.5 1088,768.6 1091.8,767.7 1095.5,766.7 1099.3,765.6 1103.1,764.5 1107,763.4 1110.8,762.1 1114.7,760.9 1118.6,759.6 1122.5,758.2 1126.3,756.8 1130.1,755.5 1133.8,754.1 1137.5,752.6 1141,751.2 1144.5,749.8 1147.8,748.4 1151,747 1154.1,745.6 1157.2,744.2 1160.1,742.8 1163,741.5 1165.8,740 1168.5,738.6 1171.3,737.1 1173.9,735.7 1176.6,734.1 1179.2,732.5 1181.8,730.9 1184.4,729.2 1187,727.5 1189.6,725.7 1192.3,723.8 1194.9,721.8 1197.6,719.7 1200.2,717.6 1202.8,715.4 1205.3,713.3 1207.8,711.1 1210.2,708.9 1212.6,706.8 1214.8,704.7 1217,702.6 1219.1,700.6 1221,698.7 1222.8,696.9 1224.5,695.1 1226.1,693.3 1227.6,691.6 1229,690 1230.4,688.3 1231.6,686.7 1232.8,685.1 1234,683.4 1235.1,681.8 1236.2,680.1 1237.2,678.5 1238.3,676.8 1239.3,675 1240.3,673.2 1241.3,671.4 1242.2,669.7 1243.1,667.9 1243.9,666 1244.7,664.2 1245.5,662.4 1246.2,660.5 1246.9,658.7 1247.6,656.8 1248.2,654.9 1248.8,652.9 1249.3,651 1249.8,649 1250.3,647 1250.7,645.1 1251,643.1 1251.3,641.2 1251.6,639.2 1251.9,637.2 1252.1,635.2 1252.2,633.1 1252.4,631 1252.5,628.8 1252.7,626.5 1252.8,624.1 1252.9,621.6 1253,619 1253.1,616.1 1253.2,613 1253.2,609.5 1253.2,605.9 1253.2,602.2 1253.2,598.4 1253.2,594.6 1253.2,590.9 1253.1,587.4 1253.1,584 1253.1,580.9 1253,578.2 1253,575.9 1253,574" fill="url(#gWallJ)" />
<polygon points="815,695 1010,585 1173,520 1253,540 1253,545 1253,546.9 1253,549.2 1253.1,551.9 1253.1,555 1253.1,558.4 1253.2,561.9 1253.2,565.6 1253.2,569.4 1253.2,573.2 1253.2,576.9 1253.2,580.5 1253.2,584 1253.1,587.1 1253,590 1252.9,592.6 1252.8,595.1 1252.7,597.5 1252.5,599.8 1252.4,602 1252.2,604.1 1252.1,606.2 1251.9,608.2 1251.6,610.2 1251.3,612.2 1251,614.1 1250.7,616.1 1250.3,618 1249.8,620 1249.3,622 1248.8,623.9 1248.2,625.9 1247.6,627.8 1246.9,629.7 1246.2,631.5 1245.5,633.4 1244.7,635.2 1243.9,637 1243.1,638.9 1242.2,640.7 1241.3,642.4 1240.3,644.2 1239.3,646 1238.3,647.8 1237.2,649.5 1236.2,651.1 1235.1,652.8 1234,654.4 1232.8,656.1 1231.6,657.7 1230.4,659.3 1229,661 1227.6,662.6 1226.1,664.3 1224.5,666.1 1222.8,667.9 1221,669.7 1219.1,671.6 1217,673.6 1214.8,675.7 1212.6,677.8 1210.2,679.9 1207.8,682.1 1205.3,684.3 1202.8,686.4 1200.2,688.6 1197.6,690.7 1194.9,692.8 1192.3,694.8 1189.6,696.7 1187,698.5 1184.4,700.2 1181.8,701.9 1179.2,703.5 1176.6,705.1 1173.9,706.7 1171.3,708.1 1168.5,709.6 1165.8,711 1163,712.5 1160.1,713.8 1157.2,715.2 1154.1,716.6 1151,718 1147.8,719.4 1144.5,720.8 1141,722.2 1137.5,723.6 1133.8,725.1 1130.1,726.5 1126.3,727.8 1122.5,729.2 1118.6,730.6 1114.7,731.9 1110.8,733.1 1107,734.4 1103.1,735.5 1099.3,736.6 1095.5,737.7 1091.8,738.7 1088,739.6 1084.3,740.5 1080.5,741.4 1076.8,742.2 1073,743 1069.2,743.7 1065.5,744.4 1061.7,745.1 1058,745.7 1054.2,746.4 1050.5,746.9 1046.7,747.5 1043,748 1039.3,748.5 1035.5,748.9 1031.8,749.4 1028.1,749.8 1024.3,750.1 1020.6,750.4 1016.9,750.7 1013.2,751 1009.4,751.2 1005.7,751.4 1002,751.6 998.3,751.8 994.5,751.9 990.8,752 987.1,752.1 983.4,752.2 979.7,752.2 976,752.2 972.3,752.2 968.7,752.2 965,752.1 961.3,752 957.6,751.9 953.8,751.8 950.1,751.6 946.2,751.4 942.4,751.1 938.5,750.8 934.5,750.4 930.2,750 925.9,749.5 921.4,749 916.9,748.4 912.3,747.8 907.8,747.1 903.4,746.5 899.1,745.8 894.9,745.2 891,744.6 887.3,744 884,743.5 881,743 878.3,742.5 875.9,742.1 873.7,741.7 871.7,741.2 869.9,740.8 868.3,740.4 866.9,740 865.6,739.6 864.5,739.3 863.4,739 862.5,738.7 861.6,738.4 860.8,738.2 860,738" fill="url(#gJinTop)" />
<polygon points="317.5,610 317.7,616.1 318.2,622.3 319.1,628.4 320.3,634.5 321.9,640.6 323.9,646.6 326.2,652.6 328.9,658.6 331.8,664.5 335.2,670.3 338.9,676.1 342.9,681.9 347.2,687.5 351.9,693.1 356.9,698.6 362.2,704 367.8,709.3 373.7,714.5 379.9,719.6 386.4,724.5 393.2,729.4 400.3,734.1 407.7,738.8 415.3,743.2 423.1,747.6 431.3,751.8 439.6,755.8 448.2,759.7 457,763.5 466,767.1 475.3,770.5 484.7,773.8 494.3,776.9 504.1,779.8 514,782.6 524.1,785.2 534.4,787.5 544.8,789.8 555.3,791.8 565.9,793.6 576.6,795.3 587.4,796.8 598.3,798 609.3,799.1 620.3,800 631.3,800.7 642.4,801.2 653.6,801.5 664.7,801.6 675.8,801.5 686.9,801.2 698,800.7 709.1,800.1 720.1,799.2 731.1,798.1 742,796.8 752.8,795.4 763.5,793.7 774.2,791.9 784.7,789.9 795.1,787.7 805.3,785.3 815.4,782.7 825.4,780 835.2,777.1 844.8,774 854.2,770.7 863.5,767.3 872.5,763.7 881.3,759.9 881.3,787.9 872.5,791.7 863.5,795.3 854.2,798.7 844.8,802 835.2,805.1 825.4,808 815.4,810.7 805.3,813.3 795.1,815.7 784.7,817.9 774.2,819.9 763.5,821.7 752.8,823.4 742,824.8 731.1,826.1 720.1,827.2 709.1,828.1 698,828.7 686.9,829.2 675.8,829.5 664.7,829.6 653.6,829.5 642.4,829.2 631.3,828.7 620.3,828 609.3,827.1 598.3,826 587.4,824.8 576.6,823.3 565.9,821.6 555.3,819.8 544.8,817.8 534.4,815.5 524.1,813.2 514,810.6 504.1,807.8 494.3,804.9 484.7,801.8 475.3,798.5 466,795.1 457,791.5 448.2,787.7 439.6,783.8 431.3,779.8 423.1,775.6 415.3,771.2 407.7,766.8 400.3,762.1 393.2,757.4 386.4,752.5 379.9,747.6 373.7,742.5 367.8,737.3 362.2,732 356.9,726.6 351.9,721.1 347.2,715.5 342.9,709.9 338.9,704.1 335.2,698.3 331.8,692.5 328.9,686.6 326.2,680.6 323.9,674.6 321.9,668.6 320.3,662.5 319.1,656.4 318.2,650.3 317.7,644.1 317.5,638" fill="url(#gWall)" />
<polygon points="317.5,540 317.5,610 317.7,616.1 318.2,622.3 319.1,628.4 320.3,634.5 321.9,640.6 323.9,646.6 326.2,652.6 328.9,658.6 331.8,664.5 335.2,670.3 338.9,676.1 342.9,681.9 347.2,687.5 351.9,693.1 356.9,698.6 362.2,704 367.8,709.3 373.7,714.5 379.9,719.6 386.4,724.5 393.2,729.4 400.3,734.1 407.7,738.8 415.3,743.2 423.1,747.6 431.3,751.8 439.6,755.8 448.2,759.7 457,763.5 466,767.1 475.3,770.5 484.7,773.8 494.3,776.9 504.1,779.8 514,782.6 524.1,785.2 534.4,787.5 544.8,789.8 555.3,791.8 565.9,793.6 576.6,795.3 587.4,796.8 598.3,798 609.3,799.1 620.3,800 631.3,800.7 642.4,801.2 653.6,801.5 664.7,801.6 675.8,801.5 686.9,801.2 698,800.7 709.1,800.1 720.1,799.2 731.1,798.1 742,796.8 752.8,795.4 763.5,793.7 774.2,791.9 784.7,789.9 795.1,787.7 805.3,785.3 815.4,782.7 825.4,780 835.2,777.1 844.8,774 854.2,770.7 863.5,767.3 872.5,763.7 881.3,759.9 880,743 645.8,584.5 560,540" fill="url(#gDiscTop)" />
<polygon points="412.7,373.8 411.6,374.3 410.2,375 408.6,375.7 406.8,376.5 404.8,377.5 402.7,378.5 400.5,379.6 398.3,380.7 396.1,381.9 393.9,383.2 391.7,384.5 389.5,386 387.2,387.5 384.8,389 382.4,390.7 380,392.4 377.6,394.1 375.2,395.9 372.8,397.7 370.4,399.6 368,401.5 365.6,403.5 363.2,405.5 360.8,407.5 358.4,409.6 356,411.8 353.7,414 351.4,416.2 349.2,418.5 347,420.8 344.9,423.2 342.8,425.6 340.8,428.1 338.8,430.7 336.9,433.3 335,435.9 333.2,438.5 331.4,441.2 329.8,443.9 328.2,446.6 326.7,449.3 325.3,451.9 324,454.6 322.7,457.3 321.5,460 320.4,462.7 319.3,465.6 318.3,468.5 317.3,471.6 316.4,474.8 315.6,478.2 314.8,481.7 314,485.3 313.4,489.1 312.8,492.9 312.2,496.8 311.7,500.7 311.3,504.6 310.9,508.5 310.6,512.3 310.3,516.2 310.1,520.1 310,524 309.9,528 309.9,532 309.9,535.9 310,539.8 310.1,543.7 310.2,547.4 310.4,551 310.6,554.5 310.8,558 311,561.4 311.2,564.7 311.5,568 311.8,571.2 312.3,574.3 312.7,577.3 313.3,580.2 314,583 314.8,585.7 315.6,588.2 316.4,590.6 317.4,592.9 318.4,595.2 319.5,597.4 320.7,599.5 322,601.7 323.5,603.8 325,606 326.7,608.2 328.4,610.4 330.3,612.6 332.3,614.7 334.4,616.8 336.6,618.9 338.8,621 341.2,623 343.6,625 346,627 348.6,628.9 351.3,630.9 354.1,632.8 357.1,634.6 360,636.5 363,638.2 366,640 368.9,641.6 371.8,643.2 374.5,644.7 377.2,646.1 379.8,647.5 382.5,648.8 385.2,650.1 387.8,651.2 390.3,652.3 392.7,653.4 394.9,654.3 397.1,655.2 399,656 400.8,656.7 402.5,657.3 404,657.7 405.5,658.1 406.8,658.5 408,658.7 409,659 410,659.1 410.8,659.3 411.5,659.5 431,653.5 529.4,600.7 640,531 651,519 647,510" fill="#b9cdf9" />
<polygon points="412.7,365.8 411.6,366.3 410.2,367 408.6,367.7 406.8,368.5 404.8,369.5 402.7,370.5 400.5,371.6 398.3,372.7 396.1,373.9 393.9,375.2 391.7,376.5 389.5,378 387.2,379.5 384.8,381 382.4,382.7 380,384.4 377.6,386.1 375.2,387.9 372.8,389.7 370.4,391.6 368,393.5 365.6,395.5 363.2,397.5 360.8,399.5 358.4,401.6 356,403.8 353.7,406 351.4,408.2 349.2,410.5 347,412.8 344.9,415.2 342.8,417.6 340.8,420.1 338.8,422.7 336.9,425.3 335,427.9 333.2,430.5 331.4,433.2 329.8,435.9 328.2,438.6 326.7,441.3 325.3,443.9 324,446.6 322.7,449.3 321.5,452 320.4,454.7 319.3,457.6 318.3,460.5 317.3,463.6 316.4,466.8 315.6,470.2 314.8,473.7 314,477.3 313.4,481.1 312.8,484.9 312.2,488.8 311.7,492.7 311.3,496.6 310.9,500.5 310.6,504.3 310.3,508.2 310.1,512.1 310,516 309.9,520 309.9,524 309.9,527.9 310,531.8 310.1,535.7 310.2,539.4 310.4,543 310.6,546.5 310.8,550 311,553.4 311.2,556.7 311.5,560 311.8,563.2 312.3,566.3 312.7,569.3 313.3,572.2 314,575 314.8,577.7 315.6,580.2 316.4,582.6 317.4,584.9 318.4,587.2 319.5,589.4 320.7,591.5 322,593.7 323.5,595.8 325,598 326.7,600.2 328.4,602.4 330.3,604.6 332.3,606.7 334.4,608.8 336.6,610.9 338.8,613 341.2,615 343.6,617 346,619 348.6,620.9 351.3,622.9 354.1,624.8 357.1,626.6 360,628.5 363,630.2 366,632 368.9,633.6 371.8,635.2 374.5,636.7 377.2,638.1 379.8,639.5 382.5,640.8 385.2,642.1 387.8,643.2 390.3,644.3 392.7,645.4 394.9,646.3 397.1,647.2 399,648 400.8,648.7 402.5,649.3 404,649.7 405.5,650.1 406.8,650.5 408,650.7 409,651 410,651.1 410.8,651.3 411.5,651.5 431,645.5 529.4,592.7 640,523 651,511 647,502" fill="url(#gTop2)" />
<polygon points="564,532 610.6,504.7 618.4,512.3 579.5,535 551.9,531" fill="#b4c8f5" opacity="0.5"/><polygon points="493.2,490.6 564,532 564,519 493.2,477.6" fill="#c9d9fb" /><polygon points="493.2,490.6 505.3,497.7 505.3,484.7 493.2,477.6" fill="#b6cbf8" /><polygon points="505.3,488.2 564,522.5 564,519 505.3,484.7" fill="#bdd0fa" /><polygon points="564,532 610.6,504.7 610.6,491.7 564,519" fill="#a6bff6" /><circle cx="576.1" cy="519.1" r="0.9" fill="#9db7f3"/><circle cx="587.3" cy="512.5" r="0.9" fill="#9db7f3"/><circle cx="598.5" cy="505.9" r="0.9" fill="#9db7f3"/><polygon points="493.2,477.6 564,519 610.6,491.7 539.8,450.3" fill="#e8effe" /><polygon points="516.7,473.7 525.7,478.9 525.7,474.4 516.7,469.2" fill="#cbd9fa" /><polygon points="525.7,478.9 551.1,464 551.1,459.5 525.7,474.4" fill="#7c9fee" /><polygon points="516.7,469.2 525.7,474.4 551.1,459.5 542.2,454.3" fill="#f6f9ff" /><polygon points="530,481.4 539,486.7 539,482.2 530,476.9" fill="#cbd9fa" /><polygon points="539,486.7 564.4,471.8 564.4,467.3 539,482.2" fill="#7c9fee" /><polygon points="530,476.9 539,482.2 564.4,467.3 555.5,462" fill="#f6f9ff" /><polygon points="543.3,489.2 552.3,494.5 552.3,490 543.3,484.7" fill="#cbd9fa" /><polygon points="552.3,494.5 577.7,479.6 577.7,475.1 552.3,490" fill="#7c9fee" /><polygon points="543.3,484.7 552.3,490 577.7,475.1 568.7,469.8" fill="#f6f9ff" /><polygon points="556.6,497 565.6,502.2 565.6,497.7 556.6,492.5" fill="#cbd9fa" /><polygon points="565.6,502.2 591,487.3 591,482.8 565.6,497.7" fill="#7c9fee" /><polygon points="556.6,492.5 565.6,497.7 591,482.8 582,477.6" fill="#f6f9ff" /><ellipse cx="618.6" cy="514.4" rx="5" ry="2.2" fill="#8fa0b8" opacity="0.45"/><rect x="612.9" y="508.5" width="1.5" height="6.2" fill="#9a4a1e"/><circle cx="616.1" cy="508.2" r="3.1" fill="#1f8a1c"/><circle cx="610.8" cy="508" r="2.8" fill="#2a9a22"/><circle cx="613.6" cy="505.2" r="4.8" fill="url(#gTree)"/>
<polygon points="493,570 539.6,542.7 547.4,550.3 508.5,573 480.9,569" fill="#b4c8f5" opacity="0.5"/><polygon points="422.2,528.6 493,570 493,557 422.2,515.6" fill="#c9d9fb" /><polygon points="422.2,528.6 434.3,535.7 434.3,522.7 422.2,515.6" fill="#b6cbf8" /><polygon points="434.3,526.2 493,560.5 493,557 434.3,522.7" fill="#bdd0fa" /><polygon points="493,570 539.6,542.7 539.6,529.7 493,557" fill="#a6bff6" /><circle cx="505.1" cy="557.1" r="0.9" fill="#9db7f3"/><circle cx="516.3" cy="550.5" r="0.9" fill="#9db7f3"/><circle cx="527.5" cy="544" r="0.9" fill="#9db7f3"/><polygon points="422.2,515.6 493,557 539.6,529.7 468.8,488.3" fill="#e8effe" /><polygon points="445.7,511.7 454.7,516.9 454.7,512.4 445.7,507.2" fill="#cbd9fa" /><polygon points="454.7,516.9 480.1,502 480.1,497.5 454.7,512.4" fill="#7c9fee" /><polygon points="445.7,507.2 454.7,512.4 480.1,497.5 471.2,492.3" fill="#f6f9ff" /><polygon points="459,519.4 468,524.7 468,520.2 459,514.9" fill="#cbd9fa" /><polygon points="468,524.7 493.4,509.8 493.4,505.3 468,520.2" fill="#7c9fee" /><polygon points="459,514.9 468,520.2 493.4,505.3 484.5,500" fill="#f6f9ff" /><polygon points="472.3,527.2 481.3,532.5 481.3,528 472.3,522.7" fill="#cbd9fa" /><polygon points="481.3,532.5 506.7,517.6 506.7,513.1 481.3,528" fill="#7c9fee" /><polygon points="472.3,522.7 481.3,528 506.7,513.1 497.7,507.8" fill="#f6f9ff" /><polygon points="485.6,535 494.6,540.2 494.6,535.7 485.6,530.5" fill="#cbd9fa" /><polygon points="494.6,540.2 520,525.3 520,520.8 494.6,535.7" fill="#7c9fee" /><polygon points="485.6,530.5 494.6,535.7 520,520.8 511,515.6" fill="#f6f9ff" /><ellipse cx="547.6" cy="552.4" rx="5" ry="2.2" fill="#8fa0b8" opacity="0.45"/><rect x="541.9" y="546.5" width="1.5" height="6.2" fill="#9a4a1e"/><circle cx="545.1" cy="546.2" r="3.1" fill="#1f8a1c"/><circle cx="539.8" cy="546" r="2.8" fill="#2a9a22"/><circle cx="542.6" cy="543.2" r="4.8" fill="url(#gTree)"/>
<polygon points="423.3,615.4 469.9,588.1 477.7,595.7 438.8,618.4 411.2,614.4" fill="#b4c8f5" opacity="0.5"/><polygon points="352.5,574 423.3,615.4 423.3,602.4 352.5,561" fill="#c9d9fb" /><polygon points="352.5,574 364.6,581.1 364.6,568.1 352.5,561" fill="#b6cbf8" /><polygon points="364.6,571.6 423.3,605.9 423.3,602.4 364.6,568.1" fill="#bdd0fa" /><polygon points="423.3,615.4 469.9,588.1 469.9,575.1 423.3,602.4" fill="#a6bff6" /><circle cx="435.4" cy="602.5" r="0.9" fill="#9db7f3"/><circle cx="446.6" cy="595.9" r="0.9" fill="#9db7f3"/><circle cx="457.8" cy="589.4" r="0.9" fill="#9db7f3"/><polygon points="352.5,561 423.3,602.4 469.9,575.1 399.1,533.7" fill="#e8effe" /><polygon points="376,557.1 385,562.3 385,557.8 376,552.6" fill="#cbd9fa" /><polygon points="385,562.3 410.4,547.4 410.4,542.9 385,557.8" fill="#7c9fee" /><polygon points="376,552.6 385,557.8 410.4,542.9 401.5,537.7" fill="#f6f9ff" /><polygon points="389.3,564.8 398.3,570.1 398.3,565.6 389.3,560.3" fill="#cbd9fa" /><polygon points="398.3,570.1 423.7,555.2 423.7,550.7 398.3,565.6" fill="#7c9fee" /><polygon points="389.3,560.3 398.3,565.6 423.7,550.7 414.8,545.4" fill="#f6f9ff" /><polygon points="402.6,572.6 411.6,577.9 411.6,573.4 402.6,568.1" fill="#cbd9fa" /><polygon points="411.6,577.9 437,563 437,558.5 411.6,573.4" fill="#7c9fee" /><polygon points="402.6,568.1 411.6,573.4 437,558.5 428,553.2" fill="#f6f9ff" /><polygon points="415.9,580.4 424.9,585.6 424.9,581.1 415.9,575.9" fill="#cbd9fa" /><polygon points="424.9,585.6 450.3,570.7 450.3,566.2 424.9,581.1" fill="#7c9fee" /><polygon points="415.9,575.9 424.9,581.1 450.3,566.2 441.3,561" fill="#f6f9ff" /><ellipse cx="477.9" cy="597.8" rx="5" ry="2.2" fill="#8fa0b8" opacity="0.45"/><rect x="472.2" y="591.9" width="1.5" height="6.2" fill="#9a4a1e"/><circle cx="475.4" cy="591.6" r="3.1" fill="#1f8a1c"/><circle cx="470.1" cy="591.4" r="2.8" fill="#2a9a22"/><circle cx="472.9" cy="588.6" r="4.8" fill="url(#gTree)"/>
<polygon points="620,672 666.6,644.7 674.4,652.3 635.5,675 607.9,671" fill="#b4c8f5" opacity="0.5"/><polygon points="549.2,630.6 620,672 620,659 549.2,617.6" fill="#c9d9fb" /><polygon points="549.2,630.6 561.3,637.7 561.3,624.7 549.2,617.6" fill="#b6cbf8" /><polygon points="561.3,628.2 620,662.5 620,659 561.3,624.7" fill="#bdd0fa" /><polygon points="620,672 666.6,644.7 666.6,631.7 620,659" fill="#a6bff6" /><circle cx="632.1" cy="659.1" r="0.9" fill="#9db7f3"/><circle cx="643.3" cy="652.5" r="0.9" fill="#9db7f3"/><circle cx="654.5" cy="646" r="0.9" fill="#9db7f3"/><polygon points="549.2,617.6 620,659 666.6,631.7 595.8,590.3" fill="#e8effe" /><polygon points="572.7,613.7 581.7,618.9 581.7,614.4 572.7,609.2" fill="#cbd9fa" /><polygon points="581.7,618.9 607.1,604 607.1,599.5 581.7,614.4" fill="#7c9fee" /><polygon points="572.7,609.2 581.7,614.4 607.1,599.5 598.2,594.3" fill="#f6f9ff" /><polygon points="586,621.4 595,626.7 595,622.2 586,616.9" fill="#cbd9fa" /><polygon points="595,626.7 620.4,611.8 620.4,607.3 595,622.2" fill="#7c9fee" /><polygon points="586,616.9 595,622.2 620.4,607.3 611.5,602" fill="#f6f9ff" /><polygon points="599.3,629.2 608.3,634.5 608.3,630 599.3,624.7" fill="#cbd9fa" /><polygon points="608.3,634.5 633.7,619.6 633.7,615.1 608.3,630" fill="#7c9fee" /><polygon points="599.3,624.7 608.3,630 633.7,615.1 624.7,609.8" fill="#f6f9ff" /><polygon points="612.6,637 621.6,642.2 621.6,637.7 612.6,632.5" fill="#cbd9fa" /><polygon points="621.6,642.2 647,627.3 647,622.8 621.6,637.7" fill="#7c9fee" /><polygon points="612.6,632.5 621.6,637.7 647,622.8 638,617.6" fill="#f6f9ff" /><ellipse cx="674.6" cy="654.4" rx="5" ry="2.2" fill="#8fa0b8" opacity="0.45"/><rect x="668.9" y="648.5" width="1.5" height="6.2" fill="#9a4a1e"/><circle cx="672.1" cy="648.2" r="3.1" fill="#1f8a1c"/><circle cx="666.8" cy="648" r="2.8" fill="#2a9a22"/><circle cx="669.6" cy="645.2" r="4.8" fill="url(#gTree)"/>
<polygon points="558,710.4 604.6,683.1 612.4,690.7 573.5,713.4 545.9,709.4" fill="#b4c8f5" opacity="0.5"/><polygon points="487.2,669 558,710.4 558,697.4 487.2,656" fill="#c9d9fb" /><polygon points="487.2,669 499.3,676.1 499.3,663.1 487.2,656" fill="#b6cbf8" /><polygon points="499.3,666.6 558,700.9 558,697.4 499.3,663.1" fill="#bdd0fa" /><polygon points="558,710.4 604.6,683.1 604.6,670.1 558,697.4" fill="#a6bff6" /><circle cx="570.1" cy="697.5" r="0.9" fill="#9db7f3"/><circle cx="581.3" cy="690.9" r="0.9" fill="#9db7f3"/><circle cx="592.5" cy="684.4" r="0.9" fill="#9db7f3"/><polygon points="487.2,656 558,697.4 604.6,670.1 533.8,628.7" fill="#e8effe" /><polygon points="510.7,652.1 519.7,657.3 519.7,652.8 510.7,647.6" fill="#cbd9fa" /><polygon points="519.7,657.3 545.1,642.4 545.1,637.9 519.7,652.8" fill="#7c9fee" /><polygon points="510.7,647.6 519.7,652.8 545.1,637.9 536.2,632.7" fill="#f6f9ff" /><polygon points="524,659.8 533,665.1 533,660.6 524,655.3" fill="#cbd9fa" /><polygon points="533,665.1 558.4,650.2 558.4,645.7 533,660.6" fill="#7c9fee" /><polygon points="524,655.3 533,660.6 558.4,645.7 549.5,640.4" fill="#f6f9ff" /><polygon points="537.3,667.6 546.3,672.9 546.3,668.4 537.3,663.1" fill="#cbd9fa" /><polygon points="546.3,672.9 571.7,658 571.7,653.5 546.3,668.4" fill="#7c9fee" /><polygon points="537.3,663.1 546.3,668.4 571.7,653.5 562.7,648.2" fill="#f6f9ff" /><polygon points="550.6,675.4 559.6,680.6 559.6,676.1 550.6,670.9" fill="#cbd9fa" /><polygon points="559.6,680.6 585,665.7 585,661.2 559.6,676.1" fill="#7c9fee" /><polygon points="550.6,670.9 559.6,676.1 585,661.2 576,656" fill="#f6f9ff" /><ellipse cx="612.6" cy="692.8" rx="5" ry="2.2" fill="#8fa0b8" opacity="0.45"/><rect x="606.9" y="686.9" width="1.5" height="6.2" fill="#9a4a1e"/><circle cx="610.1" cy="686.6" r="3.1" fill="#1f8a1c"/><circle cx="604.8" cy="686.4" r="2.8" fill="#2a9a22"/><circle cx="607.6" cy="683.6" r="4.8" fill="url(#gTree)"/>
<polygon points="491,753.4 537.6,726.1 545.4,733.7 506.5,756.4 478.9,752.4" fill="#b4c8f5" opacity="0.5"/><polygon points="420.2,712 491,753.4 491,740.4 420.2,699" fill="#c9d9fb" /><polygon points="420.2,712 432.3,719.1 432.3,706.1 420.2,699" fill="#b6cbf8" /><polygon points="432.3,709.6 491,743.9 491,740.4 432.3,706.1" fill="#bdd0fa" /><polygon points="491,753.4 537.6,726.1 537.6,713.1 491,740.4" fill="#a6bff6" /><circle cx="503.1" cy="740.5" r="0.9" fill="#9db7f3"/><circle cx="514.3" cy="733.9" r="0.9" fill="#9db7f3"/><circle cx="525.5" cy="727.4" r="0.9" fill="#9db7f3"/><polygon points="420.2,699 491,740.4 537.6,713.1 466.8,671.7" fill="#e8effe" /><polygon points="443.7,695.1 452.7,700.3 452.7,695.8 443.7,690.6" fill="#cbd9fa" /><polygon points="452.7,700.3 478.1,685.4 478.1,680.9 452.7,695.8" fill="#7c9fee" /><polygon points="443.7,690.6 452.7,695.8 478.1,680.9 469.2,675.7" fill="#f6f9ff" /><polygon points="457,702.8 466,708.1 466,703.6 457,698.3" fill="#cbd9fa" /><polygon points="466,708.1 491.4,693.2 491.4,688.7 466,703.6" fill="#7c9fee" /><polygon points="457,698.3 466,703.6 491.4,688.7 482.5,683.4" fill="#f6f9ff" /><polygon points="470.3,710.6 479.3,715.9 479.3,711.4 470.3,706.1" fill="#cbd9fa" /><polygon points="479.3,715.9 504.7,701 504.7,696.5 479.3,711.4" fill="#7c9fee" /><polygon points="470.3,706.1 479.3,711.4 504.7,696.5 495.7,691.2" fill="#f6f9ff" /><polygon points="483.6,718.4 492.6,723.6 492.6,719.1 483.6,713.9" fill="#cbd9fa" /><polygon points="492.6,723.6 518,708.7 518,704.2 492.6,719.1" fill="#7c9fee" /><polygon points="483.6,713.9 492.6,719.1 518,704.2 509,699" fill="#f6f9ff" /><ellipse cx="545.6" cy="735.8" rx="5" ry="2.2" fill="#8fa0b8" opacity="0.45"/><rect x="539.9" y="729.9" width="1.5" height="6.2" fill="#9a4a1e"/><circle cx="543.1" cy="729.6" r="3.1" fill="#1f8a1c"/><circle cx="537.8" cy="729.4" r="2.8" fill="#2a9a22"/><circle cx="540.6" cy="726.6" r="4.8" fill="url(#gTree)"/>
<polygon points="927.5,734 974.1,706.7 981.9,714.3 943,737 915.4,733" fill="#b4c8f5" opacity="0.5"/><polygon points="856.7,692.6 927.5,734 927.5,721 856.7,679.6" fill="#c9d9fb" /><polygon points="856.7,692.6 868.8,699.7 868.8,686.7 856.7,679.6" fill="#b6cbf8" /><polygon points="868.8,690.2 927.5,724.5 927.5,721 868.8,686.7" fill="#bdd0fa" /><polygon points="927.5,734 974.1,706.7 974.1,693.7 927.5,721" fill="#a6bff6" /><circle cx="939.6" cy="721.1" r="0.9" fill="#9db7f3"/><circle cx="950.8" cy="714.5" r="0.9" fill="#9db7f3"/><circle cx="962" cy="708" r="0.9" fill="#9db7f3"/><polygon points="856.7,679.6 927.5,721 974.1,693.7 903.3,652.3" fill="#e8effe" /><polygon points="880.2,675.7 889.2,680.9 889.2,676.4 880.2,671.2" fill="#cbd9fa" /><polygon points="889.2,680.9 914.6,666 914.6,661.5 889.2,676.4" fill="#7c9fee" /><polygon points="880.2,671.2 889.2,676.4 914.6,661.5 905.7,656.3" fill="#f6f9ff" /><polygon points="893.5,683.4 902.5,688.7 902.5,684.2 893.5,678.9" fill="#cbd9fa" /><polygon points="902.5,688.7 927.9,673.8 927.9,669.3 902.5,684.2" fill="#7c9fee" /><polygon points="893.5,678.9 902.5,684.2 927.9,669.3 919,664" fill="#f6f9ff" /><polygon points="906.8,691.2 915.8,696.5 915.8,692 906.8,686.7" fill="#cbd9fa" /><polygon points="915.8,696.5 941.2,681.6 941.2,677.1 915.8,692" fill="#7c9fee" /><polygon points="906.8,686.7 915.8,692 941.2,677.1 932.2,671.8" fill="#f6f9ff" /><polygon points="920.1,699 929.1,704.2 929.1,699.7 920.1,694.5" fill="#cbd9fa" /><polygon points="929.1,704.2 954.5,689.3 954.5,684.8 929.1,699.7" fill="#7c9fee" /><polygon points="920.1,694.5 929.1,699.7 954.5,684.8 945.5,679.6" fill="#f6f9ff" /><ellipse cx="982.1" cy="716.4" rx="5" ry="2.2" fill="#8fa0b8" opacity="0.45"/><rect x="976.4" y="710.5" width="1.5" height="6.2" fill="#9a4a1e"/><circle cx="979.6" cy="710.2" r="3.1" fill="#1f8a1c"/><circle cx="974.3" cy="710" r="2.8" fill="#2a9a22"/><circle cx="977.1" cy="707.2" r="4.8" fill="url(#gTree)"/>
<polygon points="738.7,355.3 785.3,328 793.1,335.6 754.2,358.3 726.6,354.3" fill="#b4c8f5" opacity="0.5"/><polygon points="667.9,313.9 738.7,355.3 738.7,342.3 667.9,300.9" fill="#c9d9fb" /><polygon points="667.9,313.9 680,321 680,308 667.9,300.9" fill="#b6cbf8" /><polygon points="680,311.5 738.7,345.8 738.7,342.3 680,308" fill="#bdd0fa" /><polygon points="738.7,355.3 785.3,328 785.3,315 738.7,342.3" fill="#a6bff6" /><circle cx="750.8" cy="342.4" r="0.9" fill="#9db7f3"/><circle cx="762" cy="335.8" r="0.9" fill="#9db7f3"/><circle cx="773.2" cy="329.2" r="0.9" fill="#9db7f3"/><polygon points="667.9,300.9 738.7,342.3 785.3,315 714.5,273.6" fill="#e8effe" /><polygon points="691.4,297 700.4,302.2 700.4,297.7 691.4,292.5" fill="#cbd9fa" /><polygon points="700.4,302.2 725.8,287.3 725.8,282.8 700.4,297.7" fill="#7c9fee" /><polygon points="691.4,292.5 700.4,297.7 725.8,282.8 716.9,277.6" fill="#f6f9ff" /><polygon points="704.7,304.7 713.7,310 713.7,305.5 704.7,300.2" fill="#cbd9fa" /><polygon points="713.7,310 739.1,295.1 739.1,290.6 713.7,305.5" fill="#7c9fee" /><polygon points="704.7,300.2 713.7,305.5 739.1,290.6 730.2,285.3" fill="#f6f9ff" /><polygon points="718,312.5 727,317.8 727,313.3 718,308" fill="#cbd9fa" /><polygon points="727,317.8 752.4,302.9 752.4,298.4 727,313.3" fill="#7c9fee" /><polygon points="718,308 727,313.3 752.4,298.4 743.4,293.1" fill="#f6f9ff" /><polygon points="731.3,320.3 740.3,325.5 740.3,321 731.3,315.8" fill="#cbd9fa" /><polygon points="740.3,325.5 765.7,310.6 765.7,306.1 740.3,321" fill="#7c9fee" /><polygon points="731.3,315.8 740.3,321 765.7,306.1 756.7,300.9" fill="#f6f9ff" /><ellipse cx="793.3" cy="337.7" rx="5" ry="2.2" fill="#8fa0b8" opacity="0.45"/><rect x="787.6" y="331.8" width="1.5" height="6.2" fill="#9a4a1e"/><circle cx="790.8" cy="331.5" r="3.1" fill="#1f8a1c"/><circle cx="785.5" cy="331.3" r="2.8" fill="#2a9a22"/><circle cx="788.3" cy="328.5" r="4.8" fill="url(#gTree)"/>
<polygon points="673.8,394.7 720.4,367.4 728.2,375 689.3,397.7 661.7,393.7" fill="#b4c8f5" opacity="0.5"/><polygon points="603,353.3 673.8,394.7 673.8,381.7 603,340.3" fill="#c9d9fb" /><polygon points="603,353.3 615.1,360.4 615.1,347.4 603,340.3" fill="#b6cbf8" /><polygon points="615.1,350.9 673.8,385.2 673.8,381.7 615.1,347.4" fill="#bdd0fa" /><polygon points="673.8,394.7 720.4,367.4 720.4,354.4 673.8,381.7" fill="#a6bff6" /><circle cx="685.9" cy="381.8" r="0.9" fill="#9db7f3"/><circle cx="697.1" cy="375.2" r="0.9" fill="#9db7f3"/><circle cx="708.3" cy="368.6" r="0.9" fill="#9db7f3"/><polygon points="603,340.3 673.8,381.7 720.4,354.4 649.6,313" fill="#e8effe" /><polygon points="626.5,336.4 635.5,341.6 635.5,337.1 626.5,331.9" fill="#cbd9fa" /><polygon points="635.5,341.6 660.9,326.7 660.9,322.2 635.5,337.1" fill="#7c9fee" /><polygon points="626.5,331.9 635.5,337.1 660.9,322.2 652,317" fill="#f6f9ff" /><polygon points="639.8,344.1 648.8,349.4 648.8,344.9 639.8,339.6" fill="#cbd9fa" /><polygon points="648.8,349.4 674.2,334.5 674.2,330 648.8,344.9" fill="#7c9fee" /><polygon points="639.8,339.6 648.8,344.9 674.2,330 665.3,324.7" fill="#f6f9ff" /><polygon points="653.1,351.9 662.1,357.2 662.1,352.7 653.1,347.4" fill="#cbd9fa" /><polygon points="662.1,357.2 687.5,342.3 687.5,337.8 662.1,352.7" fill="#7c9fee" /><polygon points="653.1,347.4 662.1,352.7 687.5,337.8 678.5,332.5" fill="#f6f9ff" /><polygon points="666.4,359.7 675.4,364.9 675.4,360.4 666.4,355.2" fill="#cbd9fa" /><polygon points="675.4,364.9 700.8,350 700.8,345.5 675.4,360.4" fill="#7c9fee" /><polygon points="666.4,355.2 675.4,360.4 700.8,345.5 691.8,340.3" fill="#f6f9ff" /><ellipse cx="728.4" cy="377.1" rx="5" ry="2.2" fill="#8fa0b8" opacity="0.45"/><rect x="722.7" y="371.2" width="1.5" height="6.2" fill="#9a4a1e"/><circle cx="725.9" cy="370.9" r="3.1" fill="#1f8a1c"/><circle cx="720.6" cy="370.7" r="2.8" fill="#2a9a22"/><circle cx="723.4" cy="367.9" r="4.8" fill="url(#gTree)"/>
<polygon points="953,480.8 986.6,461.1 992.1,466.6 964.2,482.9 944.3,480" fill="#b4c8f5" opacity="0.5"/><polygon points="902,450.9 953,480.8 953,471.4 902,441.6" fill="#c9d9fb" /><polygon points="902,450.9 910.7,456 910.7,446.7 902,441.6" fill="#b6cbf8" /><polygon points="910.7,449.2 953,473.9 953,471.4 910.7,446.7" fill="#bdd0fa" /><polygon points="953,480.8 986.6,461.1 986.6,451.8 953,471.4" fill="#a6bff6" /><circle cx="961.7" cy="471.5" r="0.6" fill="#9db7f3"/><circle cx="969.8" cy="466.7" r="0.6" fill="#9db7f3"/><circle cx="977.9" cy="462" r="0.6" fill="#9db7f3"/><polygon points="902,441.6 953,471.4 986.6,451.8 935.6,422" fill="#e8effe" /><polygon points="918.9,438.7 925.4,442.5 925.4,439.3 918.9,435.5" fill="#cbd9fa" /><polygon points="925.4,442.5 943.7,431.8 943.7,428.6 925.4,439.3" fill="#7c9fee" /><polygon points="918.9,435.5 925.4,439.3 943.7,428.6 937.3,424.8" fill="#f6f9ff" /><polygon points="928.5,444.3 935,448.1 935,444.9 928.5,441.1" fill="#cbd9fa" /><polygon points="935,448.1 953.3,437.4 953.3,434.2 935,444.9" fill="#7c9fee" /><polygon points="928.5,441.1 935,444.9 953.3,434.2 946.8,430.4" fill="#f6f9ff" /><polygon points="938.1,449.9 944.5,453.7 944.5,450.5 938.1,446.7" fill="#cbd9fa" /><polygon points="944.5,453.7 962.9,443 962.9,439.8 944.5,450.5" fill="#7c9fee" /><polygon points="938.1,446.7 944.5,450.5 962.9,439.8 956.4,436" fill="#f6f9ff" /><polygon points="947.7,455.5 954.1,459.3 954.1,456.1 947.7,452.3" fill="#cbd9fa" /><polygon points="954.1,459.3 972.4,448.6 972.4,445.4 954.1,456.1" fill="#7c9fee" /><polygon points="947.7,452.3 954.1,456.1 972.4,445.4 966,441.6" fill="#f6f9ff" /><ellipse cx="992.1" cy="467.6" rx="3.4" ry="1.5" fill="#8fa0b8" opacity="0.45"/><rect x="988.3" y="463.7" width="1" height="4.1" fill="#9a4a1e"/><circle cx="990.4" cy="463.5" r="2.1" fill="#1f8a1c"/><circle cx="986.8" cy="463.3" r="1.9" fill="#2a9a22"/><circle cx="988.7" cy="461.5" r="3.2" fill="url(#gTree)"/>
<polygon points="908.5,507.9 942.1,488.2 947.6,493.7 919.7,510 899.8,507.1" fill="#b4c8f5" opacity="0.5"/><polygon points="857.5,478 908.5,507.9 908.5,498.5 857.5,468.7" fill="#c9d9fb" /><polygon points="857.5,478 866.2,483.1 866.2,473.8 857.5,468.7" fill="#b6cbf8" /><polygon points="866.2,476.3 908.5,501 908.5,498.5 866.2,473.8" fill="#bdd0fa" /><polygon points="908.5,507.9 942.1,488.2 942.1,478.9 908.5,498.5" fill="#a6bff6" /><circle cx="917.2" cy="498.6" r="0.6" fill="#9db7f3"/><circle cx="925.3" cy="493.8" r="0.6" fill="#9db7f3"/><circle cx="933.4" cy="489.1" r="0.6" fill="#9db7f3"/><polygon points="857.5,468.7 908.5,498.5 942.1,478.9 891.1,449.1" fill="#e8effe" /><polygon points="874.4,465.8 880.9,469.6 880.9,466.4 874.4,462.6" fill="#cbd9fa" /><polygon points="880.9,469.6 899.2,458.9 899.2,455.7 880.9,466.4" fill="#7c9fee" /><polygon points="874.4,462.6 880.9,466.4 899.2,455.7 892.8,451.9" fill="#f6f9ff" /><polygon points="884,471.4 890.5,475.2 890.5,472 884,468.2" fill="#cbd9fa" /><polygon points="890.5,475.2 908.8,464.5 908.8,461.3 890.5,472" fill="#7c9fee" /><polygon points="884,468.2 890.5,472 908.8,461.3 902.3,457.5" fill="#f6f9ff" /><polygon points="893.6,477 900,480.8 900,477.6 893.6,473.8" fill="#cbd9fa" /><polygon points="900,480.8 918.4,470.1 918.4,466.9 900,477.6" fill="#7c9fee" /><polygon points="893.6,473.8 900,477.6 918.4,466.9 911.9,463.1" fill="#f6f9ff" /><polygon points="903.2,482.6 909.6,486.4 909.6,483.2 903.2,479.4" fill="#cbd9fa" /><polygon points="909.6,486.4 927.9,475.7 927.9,472.5 909.6,483.2" fill="#7c9fee" /><polygon points="903.2,479.4 909.6,483.2 927.9,472.5 921.5,468.7" fill="#f6f9ff" /><ellipse cx="947.6" cy="494.7" rx="3.4" ry="1.5" fill="#8fa0b8" opacity="0.45"/><rect x="943.8" y="490.8" width="1" height="4.1" fill="#9a4a1e"/><circle cx="945.9" cy="490.6" r="2.1" fill="#1f8a1c"/><circle cx="942.3" cy="490.4" r="1.9" fill="#2a9a22"/><circle cx="944.2" cy="488.6" r="3.2" fill="url(#gTree)"/>
<polygon points="862,535 895.6,515.3 901.1,520.8 873.2,537.1 853.3,534.2" fill="#b4c8f5" opacity="0.5"/><polygon points="811,505.1 862,535 862,525.6 811,495.8" fill="#c9d9fb" /><polygon points="811,505.1 819.7,510.2 819.7,500.9 811,495.8" fill="#b6cbf8" /><polygon points="819.7,503.4 862,528.1 862,525.6 819.7,500.9" fill="#bdd0fa" /><polygon points="862,535 895.6,515.3 895.6,506 862,525.6" fill="#a6bff6" /><circle cx="870.7" cy="525.7" r="0.6" fill="#9db7f3"/><circle cx="878.8" cy="520.9" r="0.6" fill="#9db7f3"/><circle cx="886.9" cy="516.2" r="0.6" fill="#9db7f3"/><polygon points="811,495.8 862,525.6 895.6,506 844.6,476.2" fill="#e8effe" /><polygon points="827.9,492.9 834.4,496.7 834.4,493.5 827.9,489.7" fill="#cbd9fa" /><polygon points="834.4,496.7 852.7,486 852.7,482.8 834.4,493.5" fill="#7c9fee" /><polygon points="827.9,489.7 834.4,493.5 852.7,482.8 846.3,479" fill="#f6f9ff" /><polygon points="837.5,498.5 844,502.3 844,499.1 837.5,495.3" fill="#cbd9fa" /><polygon points="844,502.3 862.3,491.6 862.3,488.4 844,499.1" fill="#7c9fee" /><polygon points="837.5,495.3 844,499.1 862.3,488.4 855.8,484.6" fill="#f6f9ff" /><polygon points="847.1,504.1 853.5,507.9 853.5,504.7 847.1,500.9" fill="#cbd9fa" /><polygon points="853.5,507.9 871.9,497.2 871.9,494 853.5,504.7" fill="#7c9fee" /><polygon points="847.1,500.9 853.5,504.7 871.9,494 865.4,490.2" fill="#f6f9ff" /><polygon points="856.7,509.7 863.1,513.5 863.1,510.3 856.7,506.5" fill="#cbd9fa" /><polygon points="863.1,513.5 881.4,502.8 881.4,499.6 863.1,510.3" fill="#7c9fee" /><polygon points="856.7,506.5 863.1,510.3 881.4,499.6 875,495.8" fill="#f6f9ff" /><ellipse cx="901.1" cy="521.8" rx="3.4" ry="1.5" fill="#8fa0b8" opacity="0.45"/><rect x="897.3" y="517.9" width="1" height="4.1" fill="#9a4a1e"/><circle cx="899.4" cy="517.7" r="2.1" fill="#1f8a1c"/><circle cx="895.8" cy="517.5" r="1.9" fill="#2a9a22"/><circle cx="897.7" cy="515.7" r="3.2" fill="url(#gTree)"/>
<g transform="translate(0 6)"><path d="M455.7 255.2Q450.6 258.3 455.7 261.4L573.6 332.9Q578.7 336 583.8 332.9L696.2 264.1Q701.3 261 696.2 257.9L578.3 186.4Q573.2 183.3 568.1 186.4Z" fill="#5c9e22" /></g><polygon points="453.6,258.3 453.6,264.3 578.7,342 578.7,336" fill="#6aae28" /><polygon points="578.7,336 578.7,342 698.3,267 698.3,261" fill="#55961f" /><path d="M455.7 255.2Q450.6 258.3 455.7 261.4L573.6 332.9Q578.7 336 583.8 332.9L696.2 264.1Q701.3 261 696.2 257.9L578.3 186.4Q573.2 183.3 568.1 186.4Z" fill="#86c232" />
<ellipse cx="471.3" cy="254.5" rx="9.9" ry="4.5" fill="#4f8a1c" opacity="0.55"/><path d="M461.2 244.6 l-0.5 12.2 l2.7 0 l-0.5 -12.2 Z" fill="#a0491a"/><circle cx="467.9" cy="245.9" r="4" fill="#1e7f16"/><circle cx="456.4" cy="245.5" r="4.3" fill="#2c9a22"/><circle cx="462.3" cy="241" r="7.9" fill="url(#gTree)"/>
<polygon points="571.5,168 618,193 618,279.6 571.5,255.6" fill="#d3b48d" />
<polygon points="571.5,168 618,193 649.4,176.5 603,151.5" fill="#ead8ba" />
<polygon points="620,195 649.4,178.5 649.4,258.6 620,277" fill="#a9c6ec" /><line x1="620" y1="200.9" x2="649.4" y2="184.2" stroke="#86a8d8" stroke-width="0.7"/><line x1="620" y1="206.7" x2="649.4" y2="189.9" stroke="#86a8d8" stroke-width="0.7"/><line x1="620" y1="212.6" x2="649.4" y2="195.7" stroke="#86a8d8" stroke-width="0.7"/><line x1="620" y1="218.4" x2="649.4" y2="201.4" stroke="#86a8d8" stroke-width="0.7"/><line x1="620" y1="224.3" x2="649.4" y2="207.1" stroke="#86a8d8" stroke-width="0.7"/><line x1="620" y1="230.1" x2="649.4" y2="212.8" stroke="#86a8d8" stroke-width="0.7"/><line x1="620" y1="236" x2="649.4" y2="218.6" stroke="#86a8d8" stroke-width="0.7"/><line x1="620" y1="241.9" x2="649.4" y2="224.3" stroke="#86a8d8" stroke-width="0.7"/><line x1="620" y1="247.7" x2="649.4" y2="230" stroke="#86a8d8" stroke-width="0.7"/><line x1="620" y1="253.6" x2="649.4" y2="235.7" stroke="#86a8d8" stroke-width="0.7"/><line x1="620" y1="259.4" x2="649.4" y2="241.4" stroke="#86a8d8" stroke-width="0.7"/><line x1="620" y1="265.3" x2="649.4" y2="247.2" stroke="#86a8d8" stroke-width="0.7"/><line x1="620" y1="271.1" x2="649.4" y2="252.9" stroke="#86a8d8" stroke-width="0.7"/><line x1="634.7" y1="186.8" x2="634.7" y2="267.8" stroke="#86a8d8" stroke-width="0.7"/>
<polygon points="618,193 621,191.4 621,278 618,279.6" fill="#8a96a8" />
<rect x="589" y="222" width="2.4" height="36" fill="#8fa6c9"/>
<path d="M606 214l3-3v5zM606 222l4-2-1 7-4 1z" fill="#3f6db5"/>
<polygon points="487.7,186.8 543.1,219.7 543.1,291.5 487.7,261.6" fill="#d3b48d" />
<polygon points="543.1,219.7 571.5,203.3 571.5,275.1 543.1,291.6" fill="#c6a57d" />
<polygon points="487.7,186.8 543.1,219.7 572,203.3 572,168 516,168" fill="#e0c9a6" />
<polygon points="491,190.5 505,198.8 505,271 491,263.5" fill="#a9c6ec" /><line x1="491" y1="196.6" x2="505" y2="204.8" stroke="#86a8d8" stroke-width="0.7"/><line x1="491" y1="202.7" x2="505" y2="210.8" stroke="#86a8d8" stroke-width="0.7"/><line x1="491" y1="208.8" x2="505" y2="216.9" stroke="#86a8d8" stroke-width="0.7"/><line x1="491" y1="214.8" x2="505" y2="222.9" stroke="#86a8d8" stroke-width="0.7"/><line x1="491" y1="220.9" x2="505" y2="228.9" stroke="#86a8d8" stroke-width="0.7"/><line x1="491" y1="227" x2="505" y2="234.9" stroke="#86a8d8" stroke-width="0.7"/><line x1="491" y1="233.1" x2="505" y2="240.9" stroke="#86a8d8" stroke-width="0.7"/><line x1="491" y1="239.2" x2="505" y2="246.9" stroke="#86a8d8" stroke-width="0.7"/><line x1="491" y1="245.2" x2="505" y2="252.9" stroke="#86a8d8" stroke-width="0.7"/><line x1="491" y1="251.3" x2="505" y2="259" stroke="#86a8d8" stroke-width="0.7"/><line x1="491" y1="257.4" x2="505" y2="265" stroke="#86a8d8" stroke-width="0.7"/><line x1="498" y1="194.7" x2="498" y2="267.2" stroke="#86a8d8" stroke-width="0.7"/>
<polygon points="521,207.5 527,211 527,283 521,279.7" fill="#dcc19d" />
<polygon points="545.5,221 553,216.7 553,286 545.5,290" fill="#a9c6ec" /><line x1="545.5" y1="226.8" x2="553" y2="222.5" stroke="#86a8d8" stroke-width="0.7"/><line x1="545.5" y1="232.5" x2="553" y2="228.2" stroke="#86a8d8" stroke-width="0.7"/><line x1="545.5" y1="238.2" x2="553" y2="234" stroke="#86a8d8" stroke-width="0.7"/><line x1="545.5" y1="244" x2="553" y2="239.8" stroke="#86a8d8" stroke-width="0.7"/><line x1="545.5" y1="249.8" x2="553" y2="245.6" stroke="#86a8d8" stroke-width="0.7"/><line x1="545.5" y1="255.5" x2="553" y2="251.3" stroke="#86a8d8" stroke-width="0.7"/><line x1="545.5" y1="261.2" x2="553" y2="257.1" stroke="#86a8d8" stroke-width="0.7"/><line x1="545.5" y1="267" x2="553" y2="262.9" stroke="#86a8d8" stroke-width="0.7"/><line x1="545.5" y1="272.8" x2="553" y2="268.7" stroke="#86a8d8" stroke-width="0.7"/><line x1="545.5" y1="278.5" x2="553" y2="274.4" stroke="#86a8d8" stroke-width="0.7"/><line x1="545.5" y1="284.2" x2="553" y2="280.2" stroke="#86a8d8" stroke-width="0.7"/>
<polygon points="563,211 570,207 570,276 563,280" fill="#a9c6ec" /><line x1="563" y1="216.8" x2="570" y2="212.8" stroke="#86a8d8" stroke-width="0.7"/><line x1="563" y1="222.5" x2="570" y2="218.5" stroke="#86a8d8" stroke-width="0.7"/><line x1="563" y1="228.2" x2="570" y2="224.2" stroke="#86a8d8" stroke-width="0.7"/><line x1="563" y1="234" x2="570" y2="230" stroke="#86a8d8" stroke-width="0.7"/><line x1="563" y1="239.8" x2="570" y2="235.8" stroke="#86a8d8" stroke-width="0.7"/><line x1="563" y1="245.5" x2="570" y2="241.5" stroke="#86a8d8" stroke-width="0.7"/><line x1="563" y1="251.2" x2="570" y2="247.2" stroke="#86a8d8" stroke-width="0.7"/><line x1="563" y1="257" x2="570" y2="253" stroke="#86a8d8" stroke-width="0.7"/><line x1="563" y1="262.8" x2="570" y2="258.8" stroke="#86a8d8" stroke-width="0.7"/><line x1="563" y1="268.5" x2="570" y2="264.5" stroke="#86a8d8" stroke-width="0.7"/><line x1="563" y1="274.2" x2="570" y2="270.2" stroke="#86a8d8" stroke-width="0.7"/>
<ellipse cx="672.8" cy="256" rx="11" ry="5" fill="#4f8a1c" opacity="0.55"/><path d="M661.6 245 l-0.5 13.5 l3 0 l-0.5 -13.5 Z" fill="#a0491a"/><circle cx="669" cy="246.5" r="4.5" fill="#1e7f16"/><circle cx="656.3" cy="246" r="4.8" fill="#2c9a22"/><circle cx="662.8" cy="241" r="8.8" fill="url(#gTree)"/>
<ellipse cx="510.6" cy="285.4" rx="5.5" ry="2.8" fill="#4f8a1c" opacity="0.5"/><circle cx="505.7" cy="281" r="5.5" fill="url(#gTree)"/>
<ellipse cx="591.5" cy="287.4" rx="5.5" ry="2.8" fill="#4f8a1c" opacity="0.5"/><circle cx="586.5" cy="283" r="5.5" fill="url(#gTree)"/>
<ellipse cx="631.2" cy="287.2" rx="6.5" ry="3.2" fill="#4f8a1c" opacity="0.5"/><circle cx="625.4" cy="282" r="6.5" fill="url(#gTree)"/>
<ellipse cx="647.6" cy="276.2" rx="4" ry="2" fill="#4f8a1c" opacity="0.5"/><circle cx="644" cy="273" r="4" fill="url(#gTree)"/>
<ellipse cx="576.5" cy="302.2" rx="17.1" ry="7.8" fill="#4f8a1c" opacity="0.55"/><path d="M559.1 285.2 l-0.8 20.9 l4.6 0 l-0.8 -20.9 Z" fill="#a0491a"/><circle cx="570.6" cy="287.5" r="7" fill="#1e7f16"/><circle cx="550.9" cy="286.8" r="7.4" fill="#2c9a22"/><circle cx="561" cy="279" r="13.6" fill="url(#gTree)"/>
<g transform="translate(0 3)"><path d="M873.9 211.8Q871.3 213.3 873.9 214.8L894.6 227Q897.2 228.5 899.8 227L942.1 202.2Q944.7 200.7 942.1 199.2L921.4 187Q918.8 185.5 916.2 187Z" fill="#5c9e22" /></g><polygon points="874.3,213.3 874.3,216.3 897.2,231.5 897.2,228.5" fill="#6aae28" /><polygon points="897.2,228.5 897.2,231.5 941.7,203.7 941.7,200.7" fill="#55961f" /><path d="M873.9 211.8Q871.3 213.3 873.9 214.8L894.6 227Q897.2 228.5 899.8 227L942.1 202.2Q944.7 200.7 942.1 199.2L921.4 187Q918.8 185.5 916.2 187Z" fill="#86c232" /><circle cx="877.8" cy="209" r="2.6" fill="#2f8f22"/><circle cx="877.3" cy="208.3" r="1.7" fill="#4cb030"/><circle cx="887.3" cy="203.5" r="2.6" fill="#2f8f22"/><circle cx="886.8" cy="202.8" r="1.7" fill="#4cb030"/><circle cx="896.8" cy="197.9" r="2.6" fill="#2f8f22"/><circle cx="896.3" cy="197.2" r="1.7" fill="#4cb030"/><circle cx="906.3" cy="192.4" r="2.6" fill="#2f8f22"/><circle cx="905.8" cy="191.7" r="1.7" fill="#4cb030"/><circle cx="915.8" cy="186.8" r="2.6" fill="#2f8f22"/><circle cx="915.3" cy="186.1" r="1.7" fill="#4cb030"/><circle cx="922.7" cy="189.9" r="2.6" fill="#2f8f22"/><circle cx="922.2" cy="189.2" r="1.7" fill="#4cb030"/><circle cx="930.4" cy="194.4" r="2.6" fill="#2f8f22"/><circle cx="929.9" cy="193.7" r="1.7" fill="#4cb030"/><polygon points="883.8,213.1 894.2,219.1 894.2,201.6 883.8,195.6" fill="#d9d6d3" /><polygon points="894.2,219.1 927.8,199.4 927.8,181.9 894.2,201.6" fill="#c4c0bd" /><polygon points="883.8,195.6 894.2,201.6 927.8,181.9 917.5,175.9" fill="#746f8d" /><line x1="895.9" y1="214.1" x2="926.1" y2="196.4" stroke="#8c8790" stroke-width="2" stroke-dasharray="3 2"/><line x1="895.9" y1="210.3" x2="926.1" y2="192.6" stroke="#8c8790" stroke-width="2" stroke-dasharray="3 2"/><line x1="895.9" y1="206.5" x2="926.1" y2="188.8" stroke="#8c8790" stroke-width="2" stroke-dasharray="3 2"/><line x1="895.9" y1="202.7" x2="926.1" y2="185" stroke="#8c8790" stroke-width="2" stroke-dasharray="3 2"/><circle cx="902.8" cy="219.7" r="2.6" fill="#2f8f22"/><circle cx="902.3" cy="219" r="1.7" fill="#4cb030"/><circle cx="914.9" cy="212.6" r="2.6" fill="#2f8f22"/><circle cx="914.4" cy="211.9" r="1.7" fill="#4cb030"/><circle cx="927" cy="205.5" r="2.6" fill="#2f8f22"/><circle cx="926.5" cy="204.8" r="1.7" fill="#4cb030"/><circle cx="937.3" cy="199.4" r="2.6" fill="#2f8f22"/><circle cx="936.8" cy="198.8" r="1.7" fill="#4cb030"/>
<g transform="translate(0 3)"><path d="M913.9 225.8Q911.3 227.3 913.9 228.8L934.6 241Q937.2 242.5 939.8 241L982.1 216.2Q984.7 214.7 982.1 213.2L961.4 201Q958.8 199.5 956.2 201Z" fill="#5c9e22" /></g><polygon points="914.3,227.3 914.3,230.3 937.2,245.5 937.2,242.5" fill="#6aae28" /><polygon points="937.2,242.5 937.2,245.5 981.7,217.7 981.7,214.7" fill="#55961f" /><path d="M913.9 225.8Q911.3 227.3 913.9 228.8L934.6 241Q937.2 242.5 939.8 241L982.1 216.2Q984.7 214.7 982.1 213.2L961.4 201Q958.8 199.5 956.2 201Z" fill="#86c232" /><circle cx="917.8" cy="223" r="2.6" fill="#2f8f22"/><circle cx="917.3" cy="222.3" r="1.7" fill="#4cb030"/><circle cx="927.3" cy="217.5" r="2.6" fill="#2f8f22"/><circle cx="926.8" cy="216.8" r="1.7" fill="#4cb030"/><circle cx="936.8" cy="211.9" r="2.6" fill="#2f8f22"/><circle cx="936.3" cy="211.2" r="1.7" fill="#4cb030"/><circle cx="946.3" cy="206.4" r="2.6" fill="#2f8f22"/><circle cx="945.8" cy="205.7" r="1.7" fill="#4cb030"/><circle cx="955.8" cy="200.8" r="2.6" fill="#2f8f22"/><circle cx="955.3" cy="200.1" r="1.7" fill="#4cb030"/><circle cx="962.7" cy="203.9" r="2.6" fill="#2f8f22"/><circle cx="962.2" cy="203.2" r="1.7" fill="#4cb030"/><circle cx="970.4" cy="208.4" r="2.6" fill="#2f8f22"/><circle cx="969.9" cy="207.7" r="1.7" fill="#4cb030"/><polygon points="923.8,227.1 934.2,233.1 934.2,215.6 923.8,209.6" fill="#d9d6d3" /><polygon points="934.2,233.1 967.8,213.4 967.8,195.9 934.2,215.6" fill="#c4c0bd" /><polygon points="923.8,209.6 934.2,215.6 967.8,195.9 957.5,189.9" fill="#746f8d" /><line x1="935.9" y1="228.1" x2="966.1" y2="210.4" stroke="#8c8790" stroke-width="2" stroke-dasharray="3 2"/><line x1="935.9" y1="224.3" x2="966.1" y2="206.6" stroke="#8c8790" stroke-width="2" stroke-dasharray="3 2"/><line x1="935.9" y1="220.5" x2="966.1" y2="202.8" stroke="#8c8790" stroke-width="2" stroke-dasharray="3 2"/><line x1="935.9" y1="216.7" x2="966.1" y2="199" stroke="#8c8790" stroke-width="2" stroke-dasharray="3 2"/><circle cx="942.8" cy="233.7" r="2.6" fill="#2f8f22"/><circle cx="942.3" cy="233" r="1.7" fill="#4cb030"/><circle cx="954.9" cy="226.6" r="2.6" fill="#2f8f22"/><circle cx="954.4" cy="225.9" r="1.7" fill="#4cb030"/><circle cx="967" cy="219.5" r="2.6" fill="#2f8f22"/><circle cx="966.5" cy="218.8" r="1.7" fill="#4cb030"/><circle cx="977.3" cy="213.4" r="2.6" fill="#2f8f22"/><circle cx="976.8" cy="212.8" r="1.7" fill="#4cb030"/>
<g transform="translate(0 3)"><path d="M829.4 238.3Q826.8 239.8 829.4 241.3L850.1 253.5Q852.7 255 855.3 253.5L897.6 228.7Q900.2 227.2 897.6 225.7L876.9 213.5Q874.3 212 871.7 213.5Z" fill="#5c9e22" /></g><polygon points="829.8,239.8 829.8,242.8 852.7,258 852.7,255" fill="#6aae28" /><polygon points="852.7,255 852.7,258 897.2,230.2 897.2,227.2" fill="#55961f" /><path d="M829.4 238.3Q826.8 239.8 829.4 241.3L850.1 253.5Q852.7 255 855.3 253.5L897.6 228.7Q900.2 227.2 897.6 225.7L876.9 213.5Q874.3 212 871.7 213.5Z" fill="#86c232" /><circle cx="833.3" cy="235.5" r="2.6" fill="#2f8f22"/><circle cx="832.8" cy="234.8" r="1.7" fill="#4cb030"/><circle cx="842.8" cy="230" r="2.6" fill="#2f8f22"/><circle cx="842.3" cy="229.3" r="1.7" fill="#4cb030"/><circle cx="852.3" cy="224.4" r="2.6" fill="#2f8f22"/><circle cx="851.8" cy="223.7" r="1.7" fill="#4cb030"/><circle cx="861.8" cy="218.9" r="2.6" fill="#2f8f22"/><circle cx="861.3" cy="218.2" r="1.7" fill="#4cb030"/><circle cx="871.3" cy="213.3" r="2.6" fill="#2f8f22"/><circle cx="870.8" cy="212.6" r="1.7" fill="#4cb030"/><circle cx="878.2" cy="216.4" r="2.6" fill="#2f8f22"/><circle cx="877.7" cy="215.7" r="1.7" fill="#4cb030"/><circle cx="885.9" cy="220.9" r="2.6" fill="#2f8f22"/><circle cx="885.4" cy="220.2" r="1.7" fill="#4cb030"/><polygon points="839.3,239.6 849.7,245.6 849.7,228.1 839.3,222.1" fill="#d9d6d3" /><polygon points="849.7,245.6 883.3,225.9 883.3,208.4 849.7,228.1" fill="#c4c0bd" /><polygon points="839.3,222.1 849.7,228.1 883.3,208.4 873,202.4" fill="#746f8d" /><line x1="851.4" y1="240.6" x2="881.6" y2="222.9" stroke="#8c8790" stroke-width="2" stroke-dasharray="3 2"/><line x1="851.4" y1="236.8" x2="881.6" y2="219.1" stroke="#8c8790" stroke-width="2" stroke-dasharray="3 2"/><line x1="851.4" y1="233" x2="881.6" y2="215.3" stroke="#8c8790" stroke-width="2" stroke-dasharray="3 2"/><line x1="851.4" y1="229.2" x2="881.6" y2="211.5" stroke="#8c8790" stroke-width="2" stroke-dasharray="3 2"/><circle cx="858.3" cy="246.2" r="2.6" fill="#2f8f22"/><circle cx="857.8" cy="245.5" r="1.7" fill="#4cb030"/><circle cx="870.4" cy="239.1" r="2.6" fill="#2f8f22"/><circle cx="869.9" cy="238.4" r="1.7" fill="#4cb030"/><circle cx="882.5" cy="232" r="2.6" fill="#2f8f22"/><circle cx="882" cy="231.3" r="1.7" fill="#4cb030"/><circle cx="892.8" cy="225.9" r="2.6" fill="#2f8f22"/><circle cx="892.3" cy="225.2" r="1.7" fill="#4cb030"/>
<g transform="translate(0 3)"><path d="M949.9 249.8Q947.3 251.3 949.9 252.8L970.6 265Q973.2 266.5 975.8 265L1018.1 240.2Q1020.7 238.7 1018.1 237.2L997.4 225Q994.8 223.5 992.2 225Z" fill="#5c9e22" /></g><polygon points="950.3,251.3 950.3,254.3 973.2,269.5 973.2,266.5" fill="#6aae28" /><polygon points="973.2,266.5 973.2,269.5 1017.7,241.7 1017.7,238.7" fill="#55961f" /><path d="M949.9 249.8Q947.3 251.3 949.9 252.8L970.6 265Q973.2 266.5 975.8 265L1018.1 240.2Q1020.7 238.7 1018.1 237.2L997.4 225Q994.8 223.5 992.2 225Z" fill="#86c232" /><circle cx="953.8" cy="247" r="2.6" fill="#2f8f22"/><circle cx="953.3" cy="246.3" r="1.7" fill="#4cb030"/><circle cx="963.3" cy="241.5" r="2.6" fill="#2f8f22"/><circle cx="962.8" cy="240.8" r="1.7" fill="#4cb030"/><circle cx="972.8" cy="235.9" r="2.6" fill="#2f8f22"/><circle cx="972.3" cy="235.2" r="1.7" fill="#4cb030"/><circle cx="982.3" cy="230.4" r="2.6" fill="#2f8f22"/><circle cx="981.8" cy="229.7" r="1.7" fill="#4cb030"/><circle cx="991.8" cy="224.8" r="2.6" fill="#2f8f22"/><circle cx="991.3" cy="224.1" r="1.7" fill="#4cb030"/><circle cx="998.7" cy="227.9" r="2.6" fill="#2f8f22"/><circle cx="998.2" cy="227.2" r="1.7" fill="#4cb030"/><circle cx="1006.4" cy="232.4" r="2.6" fill="#2f8f22"/><circle cx="1005.9" cy="231.7" r="1.7" fill="#4cb030"/><polygon points="959.8,251.1 970.2,257.1 970.2,243.1 959.8,237.1" fill="#d9d6d3" /><polygon points="970.2,257.1 1003.8,237.4 1003.8,223.4 970.2,243.1" fill="#c4c0bd" /><polygon points="959.8,237.1 970.2,243.1 1003.8,223.4 993.5,217.4" fill="#746f8d" /><line x1="971.9" y1="252.1" x2="1002.1" y2="234.4" stroke="#8c8790" stroke-width="2" stroke-dasharray="3 2"/><line x1="971.9" y1="248.1" x2="1002.1" y2="230.4" stroke="#8c8790" stroke-width="2" stroke-dasharray="3 2"/><line x1="971.9" y1="244.1" x2="1002.1" y2="226.4" stroke="#8c8790" stroke-width="2" stroke-dasharray="3 2"/><circle cx="978.8" cy="257.6" r="2.6" fill="#2f8f22"/><circle cx="978.3" cy="256.9" r="1.7" fill="#4cb030"/><circle cx="990.9" cy="250.6" r="2.6" fill="#2f8f22"/><circle cx="990.4" cy="249.9" r="1.7" fill="#4cb030"/><circle cx="1003" cy="243.5" r="2.6" fill="#2f8f22"/><circle cx="1002.5" cy="242.8" r="1.7" fill="#4cb030"/><circle cx="1013.3" cy="237.4" r="2.6" fill="#2f8f22"/><circle cx="1012.8" cy="236.8" r="1.7" fill="#4cb030"/>
<g transform="translate(0 3)"><path d="M863.4 262.8Q860.8 264.3 863.4 265.8L884.1 278Q886.7 279.5 889.3 278L931.6 253.2Q934.2 251.7 931.6 250.2L910.9 238Q908.3 236.5 905.7 238Z" fill="#5c9e22" /></g><polygon points="863.8,264.3 863.8,267.3 886.7,282.5 886.7,279.5" fill="#6aae28" /><polygon points="886.7,279.5 886.7,282.5 931.2,254.7 931.2,251.7" fill="#55961f" /><path d="M863.4 262.8Q860.8 264.3 863.4 265.8L884.1 278Q886.7 279.5 889.3 278L931.6 253.2Q934.2 251.7 931.6 250.2L910.9 238Q908.3 236.5 905.7 238Z" fill="#86c232" /><circle cx="867.3" cy="260" r="2.6" fill="#2f8f22"/><circle cx="866.8" cy="259.3" r="1.7" fill="#4cb030"/><circle cx="876.8" cy="254.5" r="2.6" fill="#2f8f22"/><circle cx="876.3" cy="253.8" r="1.7" fill="#4cb030"/><circle cx="886.3" cy="248.9" r="2.6" fill="#2f8f22"/><circle cx="885.8" cy="248.2" r="1.7" fill="#4cb030"/><circle cx="895.8" cy="243.4" r="2.6" fill="#2f8f22"/><circle cx="895.3" cy="242.7" r="1.7" fill="#4cb030"/><circle cx="905.3" cy="237.8" r="2.6" fill="#2f8f22"/><circle cx="904.8" cy="237.1" r="1.7" fill="#4cb030"/><circle cx="912.2" cy="240.9" r="2.6" fill="#2f8f22"/><circle cx="911.7" cy="240.2" r="1.7" fill="#4cb030"/><circle cx="919.9" cy="245.4" r="2.6" fill="#2f8f22"/><circle cx="919.4" cy="244.7" r="1.7" fill="#4cb030"/><polygon points="871.6,262 888,271.6 888,266.1 871.6,256.5" fill="#dad7d4" /><polygon points="888,271.6 920.8,252.4 920.8,246.9 888,266.1" fill="#c5c1be" /><polygon points="871.6,256.5 888,266.1 920.8,246.9 904.4,237.3" fill="#7b7794" /><line x1="877.2" y1="259.8" x2="910" y2="240.6" stroke="#a9a6bb" stroke-width="0.7"/><line x1="882.4" y1="262.9" x2="915.2" y2="243.7" stroke="#a9a6bb" stroke-width="0.7"/><circle cx="892.3" cy="270.6" r="2.6" fill="#2f8f22"/><circle cx="891.8" cy="269.9" r="1.7" fill="#4cb030"/><circle cx="904.4" cy="263.6" r="2.6" fill="#2f8f22"/><circle cx="903.9" cy="262.9" r="1.7" fill="#4cb030"/><circle cx="916.5" cy="256.5" r="2.6" fill="#2f8f22"/><circle cx="916" cy="255.8" r="1.7" fill="#4cb030"/><circle cx="926.8" cy="250.4" r="2.6" fill="#2f8f22"/><circle cx="926.3" cy="249.8" r="1.7" fill="#4cb030"/>
<g transform="translate(0 3)"><path d="M985.9 272.3Q983.3 273.8 985.9 275.3L1006.6 287.5Q1009.2 289 1011.8 287.5L1054.1 262.7Q1056.7 261.2 1054.1 259.7L1033.4 247.5Q1030.8 246 1028.2 247.5Z" fill="#5c9e22" /></g><polygon points="986.3,273.8 986.3,276.8 1009.2,292 1009.2,289" fill="#6aae28" /><polygon points="1009.2,289 1009.2,292 1053.7,264.2 1053.7,261.2" fill="#55961f" /><path d="M985.9 272.3Q983.3 273.8 985.9 275.3L1006.6 287.5Q1009.2 289 1011.8 287.5L1054.1 262.7Q1056.7 261.2 1054.1 259.7L1033.4 247.5Q1030.8 246 1028.2 247.5Z" fill="#86c232" /><circle cx="989.8" cy="269.5" r="2.6" fill="#2f8f22"/><circle cx="989.3" cy="268.8" r="1.7" fill="#4cb030"/><circle cx="999.3" cy="264" r="2.6" fill="#2f8f22"/><circle cx="998.8" cy="263.3" r="1.7" fill="#4cb030"/><circle cx="1008.8" cy="258.4" r="2.6" fill="#2f8f22"/><circle cx="1008.3" cy="257.7" r="1.7" fill="#4cb030"/><circle cx="1018.3" cy="252.9" r="2.6" fill="#2f8f22"/><circle cx="1017.8" cy="252.2" r="1.7" fill="#4cb030"/><circle cx="1027.8" cy="247.3" r="2.6" fill="#2f8f22"/><circle cx="1027.3" cy="246.6" r="1.7" fill="#4cb030"/><circle cx="1034.7" cy="250.4" r="2.6" fill="#2f8f22"/><circle cx="1034.2" cy="249.7" r="1.7" fill="#4cb030"/><circle cx="1042.4" cy="254.9" r="2.6" fill="#2f8f22"/><circle cx="1041.9" cy="254.2" r="1.7" fill="#4cb030"/><polygon points="995.8,273.6 1006.2,279.6 1006.2,265.6 995.8,259.6" fill="#d9d6d3" /><polygon points="1006.2,279.6 1039.8,259.9 1039.8,245.9 1006.2,265.6" fill="#c4c0bd" /><polygon points="995.8,259.6 1006.2,265.6 1039.8,245.9 1029.5,239.9" fill="#746f8d" /><line x1="1007.9" y1="274.6" x2="1038.1" y2="256.9" stroke="#8c8790" stroke-width="2" stroke-dasharray="3 2"/><line x1="1007.9" y1="270.6" x2="1038.1" y2="252.9" stroke="#8c8790" stroke-width="2" stroke-dasharray="3 2"/><line x1="1007.9" y1="266.6" x2="1038.1" y2="248.9" stroke="#8c8790" stroke-width="2" stroke-dasharray="3 2"/><circle cx="1014.8" cy="280.1" r="2.6" fill="#2f8f22"/><circle cx="1014.3" cy="279.4" r="1.7" fill="#4cb030"/><circle cx="1026.9" cy="273.1" r="2.6" fill="#2f8f22"/><circle cx="1026.4" cy="272.4" r="1.7" fill="#4cb030"/><circle cx="1039" cy="266" r="2.6" fill="#2f8f22"/><circle cx="1038.5" cy="265.3" r="1.7" fill="#4cb030"/><circle cx="1049.3" cy="259.9" r="2.6" fill="#2f8f22"/><circle cx="1048.8" cy="259.2" r="1.7" fill="#4cb030"/>
<g transform="translate(0 3)"><path d="M898.4 285.3Q895.8 286.8 898.4 288.3L919.1 300.5Q921.7 302 924.3 300.5L966.6 275.7Q969.2 274.2 966.6 272.7L945.9 260.5Q943.3 259 940.7 260.5Z" fill="#5c9e22" /></g><polygon points="898.8,286.8 898.8,289.8 921.7,305 921.7,302" fill="#6aae28" /><polygon points="921.7,302 921.7,305 966.2,277.2 966.2,274.2" fill="#55961f" /><path d="M898.4 285.3Q895.8 286.8 898.4 288.3L919.1 300.5Q921.7 302 924.3 300.5L966.6 275.7Q969.2 274.2 966.6 272.7L945.9 260.5Q943.3 259 940.7 260.5Z" fill="#86c232" /><circle cx="902.3" cy="282.5" r="2.6" fill="#2f8f22"/><circle cx="901.8" cy="281.8" r="1.7" fill="#4cb030"/><circle cx="911.8" cy="277" r="2.6" fill="#2f8f22"/><circle cx="911.3" cy="276.3" r="1.7" fill="#4cb030"/><circle cx="921.3" cy="271.4" r="2.6" fill="#2f8f22"/><circle cx="920.8" cy="270.7" r="1.7" fill="#4cb030"/><circle cx="930.8" cy="265.9" r="2.6" fill="#2f8f22"/><circle cx="930.3" cy="265.2" r="1.7" fill="#4cb030"/><circle cx="940.3" cy="260.3" r="2.6" fill="#2f8f22"/><circle cx="939.8" cy="259.6" r="1.7" fill="#4cb030"/><circle cx="947.2" cy="263.4" r="2.6" fill="#2f8f22"/><circle cx="946.7" cy="262.7" r="1.7" fill="#4cb030"/><circle cx="954.9" cy="267.9" r="2.6" fill="#2f8f22"/><circle cx="954.4" cy="267.2" r="1.7" fill="#4cb030"/><polygon points="906.6,284.5 923,294.1 923,288.6 906.6,279" fill="#dad7d4" /><polygon points="923,294.1 955.8,274.9 955.8,269.4 923,288.6" fill="#c5c1be" /><polygon points="906.6,279 923,288.6 955.8,269.4 939.4,259.9" fill="#7b7794" /><line x1="912.2" y1="282.3" x2="945" y2="263.1" stroke="#a9a6bb" stroke-width="0.7"/><line x1="917.4" y1="285.4" x2="950.2" y2="266.2" stroke="#a9a6bb" stroke-width="0.7"/><circle cx="927.3" cy="293.1" r="2.6" fill="#2f8f22"/><circle cx="926.8" cy="292.4" r="1.7" fill="#4cb030"/><circle cx="939.4" cy="286.1" r="2.6" fill="#2f8f22"/><circle cx="938.9" cy="285.4" r="1.7" fill="#4cb030"/><circle cx="951.5" cy="279" r="2.6" fill="#2f8f22"/><circle cx="951" cy="278.3" r="1.7" fill="#4cb030"/><circle cx="961.8" cy="272.9" r="2.6" fill="#2f8f22"/><circle cx="961.3" cy="272.2" r="1.7" fill="#4cb030"/>
<g transform="translate(0 3)"><path d="M1017.9 293.8Q1015.3 295.3 1017.9 296.8L1038.6 309Q1041.2 310.5 1043.8 309L1086.1 284.2Q1088.7 282.7 1086.1 281.2L1065.4 269Q1062.8 267.5 1060.2 269Z" fill="#5c9e22" /></g><polygon points="1018.3,295.3 1018.3,298.3 1041.2,313.5 1041.2,310.5" fill="#6aae28" /><polygon points="1041.2,310.5 1041.2,313.5 1085.7,285.7 1085.7,282.7" fill="#55961f" /><path d="M1017.9 293.8Q1015.3 295.3 1017.9 296.8L1038.6 309Q1041.2 310.5 1043.8 309L1086.1 284.2Q1088.7 282.7 1086.1 281.2L1065.4 269Q1062.8 267.5 1060.2 269Z" fill="#86c232" /><circle cx="1021.8" cy="291" r="2.6" fill="#2f8f22"/><circle cx="1021.3" cy="290.3" r="1.7" fill="#4cb030"/><circle cx="1031.3" cy="285.5" r="2.6" fill="#2f8f22"/><circle cx="1030.8" cy="284.8" r="1.7" fill="#4cb030"/><circle cx="1040.8" cy="279.9" r="2.6" fill="#2f8f22"/><circle cx="1040.3" cy="279.2" r="1.7" fill="#4cb030"/><circle cx="1050.3" cy="274.4" r="2.6" fill="#2f8f22"/><circle cx="1049.8" cy="273.7" r="1.7" fill="#4cb030"/><circle cx="1059.8" cy="268.8" r="2.6" fill="#2f8f22"/><circle cx="1059.3" cy="268.1" r="1.7" fill="#4cb030"/><circle cx="1066.7" cy="271.9" r="2.6" fill="#2f8f22"/><circle cx="1066.2" cy="271.2" r="1.7" fill="#4cb030"/><circle cx="1074.4" cy="276.4" r="2.6" fill="#2f8f22"/><circle cx="1073.9" cy="275.7" r="1.7" fill="#4cb030"/><polygon points="1027.8,295.1 1038.2,301.1 1038.2,291.1 1027.8,285.1" fill="#d9d6d3" /><polygon points="1038.2,301.1 1071.8,281.4 1071.8,271.4 1038.2,291.1" fill="#c4c0bd" /><polygon points="1027.8,285.1 1038.2,291.1 1071.8,271.4 1061.5,265.4" fill="#746f8d" /><line x1="1039.9" y1="296.1" x2="1070.1" y2="278.4" stroke="#8c8790" stroke-width="2" stroke-dasharray="3 2"/><line x1="1039.9" y1="292.1" x2="1070.1" y2="274.4" stroke="#8c8790" stroke-width="2" stroke-dasharray="3 2"/><circle cx="1046.8" cy="301.6" r="2.6" fill="#2f8f22"/><circle cx="1046.3" cy="300.9" r="1.7" fill="#4cb030"/><circle cx="1058.9" cy="294.6" r="2.6" fill="#2f8f22"/><circle cx="1058.4" cy="293.9" r="1.7" fill="#4cb030"/><circle cx="1071" cy="287.5" r="2.6" fill="#2f8f22"/><circle cx="1070.5" cy="286.8" r="1.7" fill="#4cb030"/><circle cx="1081.3" cy="281.4" r="2.6" fill="#2f8f22"/><circle cx="1080.8" cy="280.8" r="1.7" fill="#4cb030"/>
<g transform="translate(0 3)"><path d="M934.9 307.8Q932.3 309.3 934.9 310.8L955.6 323Q958.2 324.5 960.8 323L1003.1 298.2Q1005.7 296.7 1003.1 295.2L982.4 283Q979.8 281.5 977.2 283Z" fill="#5c9e22" /></g><polygon points="935.3,309.3 935.3,312.3 958.2,327.5 958.2,324.5" fill="#6aae28" /><polygon points="958.2,324.5 958.2,327.5 1002.7,299.7 1002.7,296.7" fill="#55961f" /><path d="M934.9 307.8Q932.3 309.3 934.9 310.8L955.6 323Q958.2 324.5 960.8 323L1003.1 298.2Q1005.7 296.7 1003.1 295.2L982.4 283Q979.8 281.5 977.2 283Z" fill="#86c232" /><circle cx="938.8" cy="305" r="2.6" fill="#2f8f22"/><circle cx="938.3" cy="304.3" r="1.7" fill="#4cb030"/><circle cx="948.3" cy="299.5" r="2.6" fill="#2f8f22"/><circle cx="947.8" cy="298.8" r="1.7" fill="#4cb030"/><circle cx="957.8" cy="293.9" r="2.6" fill="#2f8f22"/><circle cx="957.3" cy="293.2" r="1.7" fill="#4cb030"/><circle cx="967.3" cy="288.4" r="2.6" fill="#2f8f22"/><circle cx="966.8" cy="287.7" r="1.7" fill="#4cb030"/><circle cx="976.8" cy="282.8" r="2.6" fill="#2f8f22"/><circle cx="976.3" cy="282.1" r="1.7" fill="#4cb030"/><circle cx="983.7" cy="285.9" r="2.6" fill="#2f8f22"/><circle cx="983.2" cy="285.2" r="1.7" fill="#4cb030"/><circle cx="991.4" cy="290.4" r="2.6" fill="#2f8f22"/><circle cx="990.9" cy="289.7" r="1.7" fill="#4cb030"/><polygon points="943.1,307 959.5,316.6 959.5,311.1 943.1,301.5" fill="#dad7d4" /><polygon points="959.5,316.6 992.3,297.4 992.3,291.9 959.5,311.1" fill="#c5c1be" /><polygon points="943.1,301.5 959.5,311.1 992.3,291.9 975.9,282.4" fill="#7b7794" /><line x1="948.7" y1="304.8" x2="981.5" y2="285.6" stroke="#a9a6bb" stroke-width="0.7"/><line x1="953.9" y1="307.9" x2="986.7" y2="288.7" stroke="#a9a6bb" stroke-width="0.7"/><circle cx="963.8" cy="315.6" r="2.6" fill="#2f8f22"/><circle cx="963.3" cy="314.9" r="1.7" fill="#4cb030"/><circle cx="975.9" cy="308.6" r="2.6" fill="#2f8f22"/><circle cx="975.4" cy="307.9" r="1.7" fill="#4cb030"/><circle cx="988" cy="301.5" r="2.6" fill="#2f8f22"/><circle cx="987.5" cy="300.8" r="1.7" fill="#4cb030"/><circle cx="998.3" cy="295.4" r="2.6" fill="#2f8f22"/><circle cx="997.8" cy="294.8" r="1.7" fill="#4cb030"/>
<g transform="translate(0 3)"><path d="M971.9 323.8Q969.3 325.3 971.9 326.8L992.6 339Q995.2 340.5 997.8 339L1040.1 314.2Q1042.7 312.7 1040.1 311.2L1019.4 299Q1016.8 297.5 1014.2 299Z" fill="#5c9e22" /></g><polygon points="972.3,325.3 972.3,328.3 995.2,343.5 995.2,340.5" fill="#6aae28" /><polygon points="995.2,340.5 995.2,343.5 1039.7,315.7 1039.7,312.7" fill="#55961f" /><path d="M971.9 323.8Q969.3 325.3 971.9 326.8L992.6 339Q995.2 340.5 997.8 339L1040.1 314.2Q1042.7 312.7 1040.1 311.2L1019.4 299Q1016.8 297.5 1014.2 299Z" fill="#86c232" /><circle cx="975.8" cy="321" r="2.6" fill="#2f8f22"/><circle cx="975.3" cy="320.3" r="1.7" fill="#4cb030"/><circle cx="985.3" cy="315.5" r="2.6" fill="#2f8f22"/><circle cx="984.8" cy="314.8" r="1.7" fill="#4cb030"/><circle cx="994.8" cy="309.9" r="2.6" fill="#2f8f22"/><circle cx="994.3" cy="309.2" r="1.7" fill="#4cb030"/><circle cx="1004.3" cy="304.4" r="2.6" fill="#2f8f22"/><circle cx="1003.8" cy="303.7" r="1.7" fill="#4cb030"/><circle cx="1013.8" cy="298.8" r="2.6" fill="#2f8f22"/><circle cx="1013.3" cy="298.1" r="1.7" fill="#4cb030"/><circle cx="1020.7" cy="301.9" r="2.6" fill="#2f8f22"/><circle cx="1020.2" cy="301.2" r="1.7" fill="#4cb030"/><circle cx="1028.4" cy="306.4" r="2.6" fill="#2f8f22"/><circle cx="1027.9" cy="305.7" r="1.7" fill="#4cb030"/><polygon points="991.3,320.5 1000.8,326.1 1000.8,314.1 991.3,308.5" fill="#d9d6d3" /><polygon points="1000.8,326.1 1018.1,316 1018.1,304 1000.8,314.1" fill="#c2beba" /><polygon points="991.3,308.5 1000.8,314.1 1018.1,304 1008.6,298.4" fill="#77728f" /><circle cx="1000.8" cy="331.6" r="2.6" fill="#2f8f22"/><circle cx="1000.3" cy="330.9" r="1.7" fill="#4cb030"/><circle cx="1012.9" cy="324.6" r="2.6" fill="#2f8f22"/><circle cx="1012.4" cy="323.9" r="1.7" fill="#4cb030"/><circle cx="1025" cy="317.5" r="2.6" fill="#2f8f22"/><circle cx="1024.5" cy="316.8" r="1.7" fill="#4cb030"/><circle cx="1035.3" cy="311.4" r="2.6" fill="#2f8f22"/><circle cx="1034.8" cy="310.8" r="1.7" fill="#4cb030"/>
<path d="M1103 247.6 C1128 252 1143 270 1137.5 290 C1132 308 1112 318 1096 315 C1086 313 1078 306 1074.6 299.4 C1090 306 1110 304 1120 292 C1130 278 1122 258 1103 247.6Z" fill="#b4c9f8"/>
<path d="M1080 300 C1090 292 1100 296 1106 290 C1114 284 1120 288 1122 280 C1124 296 1106 308 1090 305Z" fill="#e9f0fe" opacity="0.9"/>
<g stroke="#a9bff2" fill="none" stroke-width="1"><line x1="810.5" y1="231" x2="810.5" y2="253" stroke="#dfe8fd" stroke-width="1.6"/><circle cx="810.5" cy="243" r="1.6" fill="#a9bff2"/><circle cx="810.5" cy="261" r="6" fill="#f4f7ff"/><line x1="805.5" y1="258" x2="815.5" y2="258"/><line x1="805.5" y1="261" x2="815.5" y2="261"/><line x1="805.5" y1="264" x2="815.5" y2="264"/><rect x="808.7" y="267" width="3.6" height="50" fill="#f4f7ff"/><line x1="808.7" y1="271" x2="812.3" y2="271"/><line x1="808.7" y1="276" x2="812.3" y2="276"/><line x1="808.7" y1="281" x2="812.3" y2="281"/><line x1="808.7" y1="286" x2="812.3" y2="286"/><line x1="808.7" y1="291" x2="812.3" y2="291"/><line x1="808.7" y1="296" x2="812.3" y2="296"/><line x1="808.7" y1="301" x2="812.3" y2="301"/><line x1="808.7" y1="306" x2="812.3" y2="306"/><line x1="808.7" y1="311" x2="812.3" y2="311"/><circle cx="810.5" cy="317" r="3" fill="#f4f7ff"/><path d="M809 319 L801.5 331 M812 319 L819.5 331 M810.5 320 L810.5 331 M799.5 331 H821.5"/></g>
<g fill="#a9c2f7"><rect x="350.2" y="352.9" width="1.3" height="50" fill="#c3d4fa"/><circle cx="350.9" cy="366.9" r="1.1" fill="#c3d4fa"/><circle cx="350.9" cy="374.9" r="1.1" fill="#c3d4fa"/><circle cx="350.9" cy="382.9" r="1.1" fill="#c3d4fa"/><circle cx="350.9" cy="390.9" r="1.1" fill="#c3d4fa"/><path d="M349.5 401.9 l1 -12 h0.8 l1 12z" fill="#b9cdf9"/><path d="M342.4 401.9 h17 l-4 15.5 h-9z" fill="#a9c2f7"/><ellipse cx="350.9" cy="401.9" rx="8.5" ry="2.4" fill="#c6d7fb"/><path d="M347.4 416.9 h7 l1 86.5 h-9z"/><rect x="350.1" y="418.9" width="1.6" height="82.5" fill="#cfdcfc"/><path d="M346.4 502.4 h9 l11.5 23 h-5.5 l-6.5 -12 h-8 l-6.5 12 h-5.5z" fill="#a3bdf6"/><rect x="347.9" y="505.4" width="6" height="20" fill="#b4c9f8"/></g>
<g transform="translate(300 340) scale(0.23474)"><path d="M258 340 L605 540 L605 632 L258 420Z" fill="#b6cbf8"/><path d="M258 340 C270 270 330 200 470 182 L760 385 C680 400 620 470 605 540Z" fill="#e9f0ff"/><path d="M258 340 C262 310 280 280 300 262 L660 455 C630 485 612 515 605 540Z" fill="#d3e0fc"/><path d="M470 182 C520 176 560 185 585 202 L869 402 C850 385 800 380 760 385Z" fill="#f3f6ff"/><path d="M605 632 L605 540 C620 470 680 400 760 385 C820 378 869 395 869 430 L869 527 Z" fill="#b2c8f8"/><path d="M632 615 L632 548 C645 490 700 430 765 415 C815 408 845 420 845 445 L845 540Z" fill="#e6eefe"/><path d="M650 603 L650 552 C662 502 710 452 768 437 C805 432 828 440 828 458 L828 548Z" fill="#94b1f2"/></g>
<g transform="translate(570 660) scale(0.157)"><path d="M160 665 C180 500 200 400 260 300 C300 240 400 215 560 205 L690 195 C800 150 950 125 1090 130 C1160 135 1200 170 1210 260 C1280 265 1340 290 1350 350 C1345 380 1330 390 1320 400 C1380 420 1410 450 1405 490 C1395 510 1375 515 1365 510 L1310 690 L160 690 Z" fill="#b9cefa"/><path d="M520 690 C700 570 1000 480 1340 452 L1365 510 L1310 690Z" fill="#b4cafa"/><path d="M320 640 L400 335 L500 345 L640 235 C560 300 430 450 345 655Z" fill="#a6c0f7"/><path d="M640 520 C780 300 950 180 1090 152 C1150 150 1190 180 1200 252 C1050 262 850 340 640 520Z" fill="#a8c1f8"/><path d="M700 580 C850 470 1000 400 1100 372 L1100 332 C1000 350 850 430 720 540Z" fill="#a8c1f8"/><g fill="none" stroke="#d6e2fd" stroke-linecap="round"><path d="M275 660 C285 520 330 400 400 335" stroke-width="16"/><path d="M340 655 C420 450 560 280 700 200 C820 150 980 125 1100 135" stroke-width="19"/><path d="M405 660 C600 470 900 320 1210 265 C1290 265 1340 300 1348 345" stroke-width="19"/><path d="M480 668 C700 545 1000 445 1330 422 C1380 430 1405 455 1402 488" stroke-width="19"/></g><path d="M90 668 H520 V690 H90Z" fill="#a3bdf6"/></g>
<ellipse cx="754.5" cy="550" rx="4" ry="1.8" fill="#8fa0b8" opacity="0.45"/><rect x="750" y="545.2" width="1.2" height="5" fill="#9a4a1e"/><circle cx="752.5" cy="545" r="2.5" fill="#1f8a1c"/><circle cx="748.2" cy="544.8" r="2.2" fill="#2a9a22"/><circle cx="750.5" cy="542.5" r="3.8" fill="url(#gTree)"/>
<ellipse cx="799" cy="577" rx="4" ry="1.8" fill="#8fa0b8" opacity="0.45"/><rect x="794.5" y="572.2" width="1.2" height="5" fill="#9a4a1e"/><circle cx="797" cy="572" r="2.5" fill="#1f8a1c"/><circle cx="792.8" cy="571.8" r="2.2" fill="#2a9a22"/><circle cx="795" cy="569.5" r="3.8" fill="url(#gTree)"/>
<polygon points="761,547 791,564.5 791,568 761,550.5" fill="#c3d4fa" /><polygon points="791,564.5 821,547 821,550.5 791,568" fill="#afc5f7" /><polygon points="761,547 791,564.5 821,547 791,529.5" fill="#dbe6fd" /><polygon points="770,541 791,553.3 791,557.3 770,545" fill="#c9d8fb" /><polygon points="791,553.3 812,541 812,545 791,557.3" fill="#b4c9f8" /><polygon points="770,541 791,553.3 812,541 791,528.7" fill="#e4ecfe" /><polygon points="775,535 791,544.4 791,548.4 775,539" fill="#c6d6fb" /><polygon points="791,544.4 807,535 807,539 791,548.4" fill="#b0c6f7" /><polygon points="775,535 791,544.4 807,535 791,525.6" fill="#e4ecfe" /><polygon points="777.5,505 791,512.9 791,540.9 777.5,533" fill="#c9d9fb" /><polygon points="791,512.9 804.5,505 804.5,533 791,540.9" fill="#b2c8f8" /><polygon points="777.5,505 791,512.9 804.5,505 791,497.1" fill="#e6eefe" /><polygon points="776,502 791,510.8 791,513.8 776,505" fill="#d3e0fc" /><polygon points="791,510.8 806,502 806,505 791,513.8" fill="#bccff9" /><polygon points="776,502 791,510.8 806,502 791,493.2" fill="#eaf0ff" /><path d="M783 506 C781 490 782 474 785 462 C783 456 785 450 788 447 C787 442 790 437 794 437 C798 437 800 441 799 446 L805 424 L807.5 419 L809.5 420 L808 426 L802 452 C803 470 803 490 801 507 Z" fill="#9ab6f3"/><path d="M783 506 C781 490 782 474 785 462 C783 456 785 450 788 447 C790 455 791 480 790 507Z" fill="#7fa2ec"/><path d="M794 452 L793 504 M797.5 452 L797 505" stroke="#b9cdf9" stroke-width="1" fill="none"/><path d="M805.5 419 l1.5 -5 l2 -2 l2 3 l-1 5z" fill="#f0b85a"/><circle cx="808" cy="414.5" r="2" fill="#f6c46a"/>
<ellipse cx="836.1" cy="550.8" rx="4.5" ry="2" fill="#8fa0b8" opacity="0.45"/><rect x="831" y="545.5" width="1.3" height="5.5" fill="#9a4a1e"/><circle cx="833.9" cy="545.2" r="2.8" fill="#1f8a1c"/><circle cx="829.1" cy="545" r="2.5" fill="#2a9a22"/><circle cx="831.6" cy="542.5" r="4.2" fill="url(#gTree)"/>
<ellipse cx="817.9" cy="538" rx="2.9" ry="1.3" fill="#8fa0b8" opacity="0.45"/><rect x="814.6" y="534.6" width="0.8" height="3.5" fill="#9a4a1e"/><circle cx="816.4" cy="534.4" r="1.8" fill="#1f8a1c"/><circle cx="813.4" cy="534.3" r="1.6" fill="#2a9a22"/><circle cx="815" cy="532.7" r="2.7" fill="url(#gTree)"/>
<path d="M1204 562 h6.5 l0.5 43.5 h-7.5z" fill="#b9cdf9"/><path d="M1216 570 h3.6 l0.4 35.5 h-4.4z" fill="#86a7ef"/><path d="M1191 553.5 C1197 557 1208 558.5 1219 556.5 C1224 558 1224 563 1221.5 566 C1217 561 1204 560.5 1194 558.5Z" fill="#c0d2fa"/><path d="M1216 554.5 C1222 554 1228 551.5 1231 548 L1232.5 551 C1230 556 1224 559 1218 559.5Z" fill="#a9c2f7"/><path d="M1205.4 562.5 h6.6 v3.5 l-6.6 3z" fill="#6f95ec"/><path d="M1204.8 572 L1222.8 560.3 L1222.8 563.5 L1204.8 575.5Z" fill="#dbe6fd"/>
<g transform="translate(0 7)"><path d="M928.9 636Q922 640 928.9 644L1074.1 727Q1081 731 1087.8 726.8L1223.7 644.2Q1230.5 640 1223.6 636L1082.5 555Q1075.6 551 1068.7 555Z" fill="#5c9e22" /></g><polygon points="925,640 925,647 1081,738 1081,731" fill="#6aae28" /><polygon points="1081,731 1081,738 1227.5,647 1227.5,640" fill="#55961f" /><path d="M928.9 636Q922 640 928.9 644L1074.1 727Q1081 731 1087.8 726.8L1223.7 644.2Q1230.5 640 1223.6 636L1082.5 555Q1075.6 551 1068.7 555Z" fill="#86c232" />
<ellipse cx="1059" cy="573.5" rx="9.9" ry="4.5" fill="#4f8a1c" opacity="0.55"/><path d="M1048.9 563.6 l-0.5 12.2 l2.7 0 l-0.5 -12.2 Z" fill="#a0491a"/><circle cx="1055.6" cy="565" r="4" fill="#1e7f16"/><circle cx="1044.2" cy="564.5" r="4.3" fill="#2c9a22"/><circle cx="1050" cy="560" r="7.9" fill="url(#gTree)"/><ellipse cx="1089" cy="573.5" rx="9.9" ry="4.5" fill="#4f8a1c" opacity="0.55"/><path d="M1078.9 563.6 l-0.5 12.2 l2.7 0 l-0.5 -12.2 Z" fill="#a0491a"/><circle cx="1085.6" cy="565" r="4" fill="#1e7f16"/><circle cx="1074.2" cy="564.5" r="4.3" fill="#2c9a22"/><circle cx="1080" cy="560" r="7.9" fill="url(#gTree)"/><polygon points="1056,589 1100,589 1100,636 1056,636" fill="#eceff6" /><polygon points="1057,582 1098,582 1098,590 1057,590" fill="#2f4a86" /><rect x="1061.7" y="596" width="2.6" height="5" fill="#7fb0dc"/><rect x="1071.7" y="596" width="2.6" height="5" fill="#7fb0dc"/><rect x="1081.7" y="596" width="2.6" height="5" fill="#7fb0dc"/><rect x="1091.7" y="596" width="2.6" height="5" fill="#7fb0dc"/><rect x="1061.7" y="612" width="2.6" height="5" fill="#7fb0dc"/><rect x="1071.7" y="612" width="2.6" height="5" fill="#7fb0dc"/><rect x="1081.7" y="612" width="2.6" height="5" fill="#7fb0dc"/><rect x="1091.7" y="612" width="2.6" height="5" fill="#7fb0dc"/><polygon points="1066,628 1076,628 1076,637 1066,637" fill="#d9dde6" /><polygon points="1081,628 1091,628 1091,637 1081,637" fill="#d9dde6" /><polygon points="962,610 993,628 993,672 962,654" fill="#eceff6" /><polygon points="993,628 1056,592 1056,634 993,672" fill="#dfe3ee" /><polygon points="962,609 1026.5,572 1057.5,590 993,627" fill="#dadada" /><polygon points="962,609 993,627 993,631 962,613" fill="#8a4a3e" /><polygon points="993,627 1057,590 1057,594 993,631" fill="#7a4236" /><polygon points="962,613 993,631 993,646 962,628" fill="#8e4e40" /><polygon points="963.7,615 968,617.5 968,631.5 963.7,629" fill="#cfe4ef" /><polygon points="971.5,619.5 975.8,622 975.8,636 971.5,633.5" fill="#cfe4ef" /><polygon points="979.2,624 983.5,626.5 983.5,640.5 979.2,638" fill="#cfe4ef" /><polygon points="987,628.5 991.3,631 991.3,645 987,642.5" fill="#cfe4ef" /><polygon points="993,631 1057,594 1057,609 993,646" fill="#8e4e40" /><polygon points="994.8,631 999.2,628.4 999.2,642.4 994.8,645" fill="#cfe4ef" /><polygon points="1002.8,626.4 1007.2,623.8 1007.2,637.8 1002.8,640.4" fill="#cfe4ef" /><polygon points="1010.8,621.7 1015.2,619.1 1015.2,633.1 1010.8,635.7" fill="#cfe4ef" /><polygon points="1018.8,617.1 1023.2,614.5 1023.2,628.5 1018.8,631.1" fill="#cfe4ef" /><polygon points="1026.8,612.5 1031.2,609.9 1031.2,623.9 1026.8,626.5" fill="#cfe4ef" /><polygon points="1034.8,607.9 1039.2,605.3 1039.2,619.3 1034.8,621.9" fill="#cfe4ef" /><polygon points="1042.8,603.2 1047.2,600.6 1047.2,614.6 1042.8,617.2" fill="#cfe4ef" /><polygon points="1050.8,598.6 1055.2,596 1055.2,610 1050.8,612.6" fill="#cfe4ef" /><rect x="966.2" y="636" width="2.6" height="5" fill="#7fb0dc"/><rect x="973.2" y="640" width="2.6" height="5" fill="#7fb0dc"/><rect x="980.2" y="644" width="2.6" height="5" fill="#7fb0dc"/><rect x="987.2" y="648" width="2.6" height="5" fill="#7fb0dc"/><rect x="997.5" y="649.8" width="2.6" height="5" fill="#7fb0dc"/><rect x="1005" y="645.4" width="2.6" height="5" fill="#7fb0dc"/><rect x="1012.5" y="641.1" width="2.6" height="5" fill="#7fb0dc"/><rect x="1020" y="636.7" width="2.6" height="5" fill="#7fb0dc"/><rect x="1027.5" y="632.3" width="2.6" height="5" fill="#7fb0dc"/><rect x="1035" y="627.9" width="2.6" height="5" fill="#7fb0dc"/><rect x="1042.5" y="623.6" width="2.6" height="5" fill="#7fb0dc"/><rect x="1050" y="619.2" width="2.6" height="5" fill="#7fb0dc"/><polygon points="962,648 993,666 993,672 962,654" fill="#cfd2da" /><polygon points="993,666 1056,630 1056,636 993,672" fill="#c4c8d2" /><polygon points="1100,592 1163.4,628 1163.4,670 1100,634" fill="#eceff6" /><polygon points="1163.4,628 1194.3,610 1194.3,652 1163.4,670" fill="#dfe3ee" /><polygon points="1100,590.7 1132.4,572 1194.3,609 1163.4,627" fill="#dadada" /><polygon points="1100,590.7 1163.4,627 1163.4,631 1100,594.7" fill="#8a4a3e" /><polygon points="1163.4,627 1194.3,609 1194.3,613 1163.4,631" fill="#7a4236" /><polygon points="1100,594.7 1163.4,631 1163.4,646 1100,609.7" fill="#8e4e40" /><polygon points="1101.7,596.7 1106.2,599.2 1106.2,613.2 1101.7,610.7" fill="#cfe4ef" /><polygon points="1109.7,601.2 1114.1,603.8 1114.1,617.8 1109.7,615.2" fill="#cfe4ef" /><polygon points="1117.6,605.8 1122,608.3 1122,622.3 1117.6,619.8" fill="#cfe4ef" /><polygon points="1125.5,610.3 1130,612.9 1130,626.9 1125.5,624.3" fill="#cfe4ef" /><polygon points="1133.4,614.8 1137.9,617.4 1137.9,631.4 1133.4,628.8" fill="#cfe4ef" /><polygon points="1141.4,619.4 1145.8,621.9 1145.8,635.9 1141.4,633.4" fill="#cfe4ef" /><polygon points="1149.3,623.9 1153.7,626.5 1153.7,640.5 1149.3,637.9" fill="#cfe4ef" /><polygon points="1157.2,628.5 1161.7,631 1161.7,645 1157.2,642.5" fill="#cfe4ef" /><polygon points="1163.4,631 1194.3,613 1194.3,628 1163.4,646" fill="#8e4e40" /><polygon points="1165.1,631 1169.4,628.5 1169.4,642.5 1165.1,645" fill="#cfe4ef" /><polygon points="1172.8,626.5 1177.2,624 1177.2,638 1172.8,640.5" fill="#cfe4ef" /><polygon points="1180.5,622 1184.9,619.5 1184.9,633.5 1180.5,636" fill="#cfe4ef" /><polygon points="1188.3,617.5 1192.6,615 1192.6,629 1188.3,631.5" fill="#cfe4ef" /><rect x="1104.5" y="618.1" width="2.6" height="5" fill="#7fb0dc"/><rect x="1112" y="622.4" width="2.6" height="5" fill="#7fb0dc"/><rect x="1119.5" y="626.6" width="2.6" height="5" fill="#7fb0dc"/><rect x="1127" y="630.9" width="2.6" height="5" fill="#7fb0dc"/><rect x="1134.5" y="635.1" width="2.6" height="5" fill="#7fb0dc"/><rect x="1142" y="639.4" width="2.6" height="5" fill="#7fb0dc"/><rect x="1149.5" y="643.6" width="2.6" height="5" fill="#7fb0dc"/><rect x="1157" y="647.9" width="2.6" height="5" fill="#7fb0dc"/><rect x="1167.2" y="648" width="2.6" height="5" fill="#7fb0dc"/><rect x="1174.2" y="644" width="2.6" height="5" fill="#7fb0dc"/><rect x="1181.2" y="640" width="2.6" height="5" fill="#7fb0dc"/><rect x="1188.2" y="636" width="2.6" height="5" fill="#7fb0dc"/><polygon points="1100,628 1163.4,664 1163.4,670 1100,634" fill="#cfd2da" /><polygon points="1163.4,664 1194.3,646 1194.3,652 1163.4,670" fill="#c4c8d2" />
<ellipse cx="1065" cy="649" rx="8.8" ry="4" fill="#4f8a1c" opacity="0.55"/><path d="M1056 640.2 l-0.4 10.8 l2.4 0 l-0.4 -10.8 Z" fill="#a0491a"/><circle cx="1062" cy="641.4" r="3.6" fill="#1e7f16"/><circle cx="1051.8" cy="641" r="3.8" fill="#2c9a22"/><circle cx="1057" cy="637" r="7" fill="url(#gTree)"/>
<ellipse cx="1104" cy="657.5" rx="9.9" ry="4.5" fill="#4f8a1c" opacity="0.55"/><path d="M1093.9 647.6 l-0.5 12.2 l2.7 0 l-0.5 -12.2 Z" fill="#a0491a"/><circle cx="1100.6" cy="649" r="4" fill="#1e7f16"/><circle cx="1089.2" cy="648.5" r="4.3" fill="#2c9a22"/><circle cx="1095" cy="644" r="7.9" fill="url(#gTree)"/>
<ellipse cx="1118.5" cy="659" rx="5" ry="2.5" fill="#4f8a1c" opacity="0.5"/><circle cx="1114" cy="655" r="5" fill="url(#gTree)"/>
<ellipse cx="1143" cy="682" rx="11" ry="5" fill="#4f8a1c" opacity="0.55"/><path d="M1131.8 671 l-0.5 13.5 l3 0 l-0.5 -13.5 Z" fill="#a0491a"/><circle cx="1139.2" cy="672.5" r="4.5" fill="#1e7f16"/><circle cx="1126.5" cy="672" r="4.8" fill="#2c9a22"/><circle cx="1133" cy="667" r="8.8" fill="url(#gTree)"/>
<ellipse cx="1031" cy="671.5" rx="14.3" ry="6.5" fill="#4f8a1c" opacity="0.55"/><path d="M1016.4 657.2 l-0.7 17.6 l3.9 0 l-0.7 -17.6 Z" fill="#a0491a"/><circle cx="1026.1" cy="659.1" r="5.9" fill="#1e7f16"/><circle cx="1009.5" cy="658.5" r="6.2" fill="#2c9a22"/><circle cx="1018" cy="652" r="11.4" fill="url(#gTree)"/>
<ellipse cx="1103" cy="695" rx="8.8" ry="4" fill="#4f8a1c" opacity="0.55"/><path d="M1094 686.2 l-0.4 10.8 l2.4 0 l-0.4 -10.8 Z" fill="#a0491a"/><circle cx="1100" cy="687.4" r="3.6" fill="#1e7f16"/><circle cx="1089.8" cy="687" r="3.8" fill="#2c9a22"/><circle cx="1095" cy="683" r="7" fill="url(#gTree)"/>
<ellipse cx="1057" cy="700.5" rx="7.7" ry="3.5" fill="#4f8a1c" opacity="0.55"/><path d="M1049.2 692.8 l-0.4 9.5 l2.1 0 l-0.4 -9.5 Z" fill="#a0491a"/><circle cx="1054.3" cy="693.9" r="3.1" fill="#1e7f16"/><circle cx="1045.5" cy="693.5" r="3.4" fill="#2c9a22"/><circle cx="1050" cy="690" r="6.2" fill="url(#gTree)"/>
<g transform="translate(311 216.5) rotate(-27) scale(1.04 0.95)"><rect x="-33" y="-14.5" width="66" height="29" rx="11" fill="#c9cdd1"/><rect x="-32" y="-13.5" width="64" height="27" rx="10" fill="#e9ecef"/><path d="M4 -11.5 C12 -12 17 -11 19 -9 C21 -3 21 3 19 9 C17 11 12 12 4 11.5Z" fill="#4a5358"/><rect x="-20" y="-11" width="25" height="22" rx="2.5" fill="#dfe3e6"/><path d="M-20 -10.5 C-25 -10 -27 -8 -28 -5 C-29 0 -29 0 -28 5 C-27 8 -25 10 -20 10.5Z" fill="#4a5358"/><path d="M-20 -12.2 H5 M-20 12.2 H5" stroke="#3b4347" stroke-width="1.6"/><path d="M-32.5 -9 v-3 M-32.5 9 v3" stroke="#d8424a" stroke-width="1.6"/></g>
<g transform="translate(1303 302) rotate(217.8) scale(1.04 0.95)"><rect x="-33" y="-14.5" width="66" height="29" rx="11" fill="#c9cdd1"/><rect x="-32" y="-13.5" width="64" height="27" rx="10" fill="#e9ecef"/><path d="M4 -11.5 C12 -12 17 -11 19 -9 C21 -3 21 3 19 9 C17 11 12 12 4 11.5Z" fill="#4a5358"/><rect x="-20" y="-11" width="25" height="22" rx="2.5" fill="#dfe3e6"/><path d="M-20 -10.5 C-25 -10 -27 -8 -28 -5 C-29 0 -29 0 -28 5 C-27 8 -25 10 -20 10.5Z" fill="#4a5358"/><path d="M-20 -12.2 H5 M-20 12.2 H5" stroke="#3b4347" stroke-width="1.6"/><path d="M-32.5 -9 v-3 M-32.5 9 v3" stroke="#d8424a" stroke-width="1.6"/></g>
<g fill="#0a5fb2" font-family="'Liberation Serif','Noto Serif CJK SC',serif" font-weight="bold" font-size="94" text-anchor="middle"><text x="675" y="114">韶</text><text x="788" y="110">远</text></g>
<rect x="391" y="114" width="210" height="67" rx="9" fill="#8dd2f7"/><path d="M396 117 h194 a8 8 0 0 1 8 8 v51 a8 8 0 0 1 -8 8 H507.5 L493 211.5 L478.5 184 H396 a8 8 0 0 1 -8 -8 v-51 a8 8 0 0 1 8 -8Z" fill="#0661b4"/><text x="493" y="164.5" font-family="'Liberation Sans','Noto Sans CJK SC',sans-serif" font-weight="bold" font-size="32" text-anchor="middle" fill="#fff">上海</text>
<rect x="861" y="131" width="210" height="67" rx="9" fill="#8dd2f7"/><path d="M866 134 h194 a8 8 0 0 1 8 8 v51 a8 8 0 0 1 -8 8 H977.5 L963 228.5 L948.5 201 H866 a8 8 0 0 1 -8 -8 v-51 a8 8 0 0 1 8 -8Z" fill="#0661b4"/><text x="963" y="181.5" font-family="'Liberation Sans','Noto Sans CJK SC',sans-serif" font-weight="bold" font-size="32" text-anchor="middle" fill="#fff">生产基地</text>
<rect x="833" y="357" width="210" height="67" rx="9" fill="#8dd2f7"/><path d="M838 360 h194 a8 8 0 0 1 8 8 v51 a8 8 0 0 1 -8 8 H949.5 L935 454.5 L920.5 427 H838 a8 8 0 0 1 -8 -8 v-51 a8 8 0 0 1 8 -8Z" fill="#0661b4"/><text x="934.5" y="407.5" font-family="'Liberation Sans','Noto Sans CJK SC',sans-serif" font-weight="bold" font-size="32" text-anchor="middle" fill="#fff">美国</text>
<rect x="1031" y="482" width="210" height="67" rx="9" fill="#8dd2f7"/><path d="M1036 485 h194 a8 8 0 0 1 8 8 v51 a8 8 0 0 1 -8 8 H1147.5 L1133 579.5 L1118.5 552 H1036 a8 8 0 0 1 -8 -8 v-51 a8 8 0 0 1 8 -8Z" fill="#0661b4"/><text x="1132.5" y="532.5" font-family="'Liberation Sans','Noto Sans CJK SC',sans-serif" font-weight="bold" font-size="32" text-anchor="middle" fill="#fff">济南</text>
<rect x="439" y="514" width="210" height="67" rx="9" fill="#8dd2f7"/><path d="M444 517 h194 a8 8 0 0 1 8 8 v51 a8 8 0 0 1 -8 8 H555.5 L541 611.5 L526.5 584 H444 a8 8 0 0 1 -8 -8 v-51 a8 8 0 0 1 8 -8Z" fill="#0661b4"/><text x="541" y="564.5" font-family="'Liberation Sans','Noto Sans CJK SC',sans-serif" font-weight="bold" font-size="32" text-anchor="middle" fill="#fff">其他机构</text>
</svg>
</body></html>
